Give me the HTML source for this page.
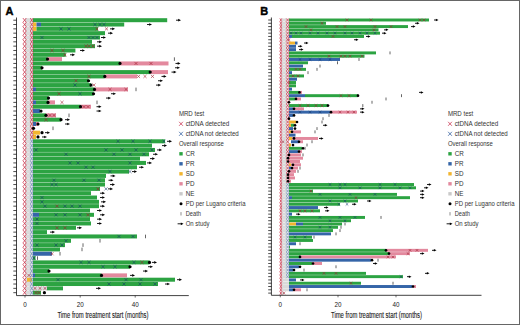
<!DOCTYPE html>
<html><head><meta charset="utf-8"><style>
html,body{margin:0;padding:0;background:#fff;}
body{width:520px;height:325px;overflow:hidden;}
svg{display:block;font-family:"Liberation Sans",sans-serif;}
</style></head><body>
<svg width="520" height="325" viewBox="0 0 520 325">
<rect x="0" y="0" width="520" height="325" fill="#fff"/>
<text x="5.5" y="14.8" font-size="11" font-weight="bold" stroke="#000" stroke-width="0.4">A</text>
<text x="260.2" y="14.8" font-size="11" font-weight="bold" stroke="#000" stroke-width="0.4">B</text>
<rect x="25.00" y="18.20" width="8.00" height="4.00" fill="#dadada"/>
<rect x="33.00" y="18.20" width="134.20" height="4.00" fill="#2ca342"/>
<rect x="25.00" y="22.52" width="8.00" height="4.00" fill="#dadada"/>
<rect x="33.00" y="22.52" width="3.50" height="4.00" fill="#f2b530"/>
<rect x="36.50" y="22.52" width="4.50" height="4.00" fill="#3565a8"/>
<rect x="41.00" y="22.52" width="83.20" height="4.00" fill="#2ca342"/>
<rect x="25.00" y="26.85" width="8.00" height="4.00" fill="#dadada"/>
<rect x="33.00" y="26.85" width="3.50" height="4.00" fill="#f2b530"/>
<rect x="36.50" y="26.85" width="61.50" height="4.00" fill="#2ca342"/>
<rect x="25.00" y="31.17" width="8.00" height="4.00" fill="#dadada"/>
<rect x="33.00" y="31.17" width="72.00" height="4.00" fill="#2ca342"/>
<rect x="25.00" y="35.50" width="8.00" height="4.00" fill="#dadada"/>
<rect x="33.00" y="35.50" width="67.00" height="4.00" fill="#2ca342"/>
<rect x="25.00" y="39.83" width="8.00" height="4.00" fill="#dadada"/>
<rect x="33.00" y="39.83" width="59.00" height="4.00" fill="#2ca342"/>
<rect x="25.00" y="44.15" width="8.00" height="4.00" fill="#dadada"/>
<rect x="33.00" y="44.15" width="62.00" height="4.00" fill="#2ca342"/>
<rect x="25.00" y="48.48" width="8.00" height="4.00" fill="#dadada"/>
<rect x="33.00" y="48.48" width="42.40" height="4.00" fill="#2ca342"/>
<rect x="25.00" y="52.80" width="8.00" height="4.00" fill="#dadada"/>
<rect x="33.00" y="52.80" width="32.80" height="4.00" fill="#2ca342"/>
<rect x="25.00" y="57.12" width="8.00" height="4.00" fill="#dadada"/>
<rect x="33.00" y="57.12" width="14.50" height="4.00" fill="#2ca342"/>
<rect x="47.50" y="57.12" width="14.50" height="4.00" fill="#e3899e"/>
<rect x="25.00" y="61.45" width="8.00" height="4.00" fill="#dadada"/>
<rect x="33.00" y="61.45" width="87.00" height="4.00" fill="#2ca342"/>
<rect x="120.00" y="61.45" width="48.50" height="4.00" fill="#e3899e"/>
<rect x="25.00" y="65.78" width="8.00" height="4.00" fill="#dadada"/>
<rect x="33.00" y="65.78" width="9.00" height="4.00" fill="#2ca342"/>
<rect x="25.00" y="70.10" width="8.00" height="4.00" fill="#dadada"/>
<rect x="33.00" y="70.10" width="117.20" height="4.00" fill="#2ca342"/>
<rect x="150.20" y="70.10" width="17.80" height="4.00" fill="#e3899e"/>
<rect x="25.00" y="74.42" width="8.00" height="4.00" fill="#dadada"/>
<rect x="33.00" y="74.42" width="71.80" height="4.00" fill="#2ca342"/>
<rect x="104.80" y="74.42" width="32.20" height="4.00" fill="#e3899e"/>
<rect x="25.00" y="78.75" width="8.00" height="4.00" fill="#dadada"/>
<rect x="33.00" y="78.75" width="55.50" height="4.00" fill="#2ca342"/>
<rect x="25.00" y="83.08" width="8.00" height="4.00" fill="#dadada"/>
<rect x="33.00" y="83.08" width="58.00" height="4.00" fill="#2ca342"/>
<rect x="25.00" y="87.40" width="8.00" height="4.00" fill="#dadada"/>
<rect x="33.00" y="87.40" width="3.00" height="4.00" fill="#3565a8"/>
<rect x="36.00" y="87.40" width="58.50" height="4.00" fill="#2ca342"/>
<rect x="94.50" y="87.40" width="33.50" height="4.00" fill="#e3899e"/>
<rect x="25.00" y="91.73" width="8.00" height="4.00" fill="#dadada"/>
<rect x="33.00" y="91.73" width="60.50" height="4.00" fill="#2ca342"/>
<rect x="25.00" y="96.05" width="8.00" height="4.00" fill="#dadada"/>
<rect x="33.00" y="96.05" width="15.50" height="4.00" fill="#2ca342"/>
<rect x="25.00" y="100.38" width="8.00" height="4.00" fill="#dadada"/>
<rect x="33.00" y="100.38" width="3.00" height="4.00" fill="#3565a8"/>
<rect x="36.00" y="100.38" width="12.00" height="4.00" fill="#2ca342"/>
<rect x="48.00" y="100.38" width="7.00" height="4.00" fill="#e3899e"/>
<rect x="25.00" y="104.70" width="8.00" height="4.00" fill="#dadada"/>
<rect x="33.00" y="104.70" width="47.50" height="4.00" fill="#2ca342"/>
<rect x="80.50" y="104.70" width="10.50" height="4.00" fill="#e3899e"/>
<rect x="25.00" y="109.03" width="8.00" height="4.00" fill="#dadada"/>
<rect x="33.00" y="109.03" width="7.00" height="4.00" fill="#3565a8"/>
<rect x="25.00" y="113.35" width="8.00" height="4.00" fill="#dadada"/>
<rect x="33.00" y="113.35" width="13.00" height="4.00" fill="#2ca342"/>
<rect x="46.00" y="113.35" width="10.00" height="4.00" fill="#e3899e"/>
<rect x="25.00" y="117.68" width="8.00" height="4.00" fill="#dadada"/>
<rect x="33.00" y="117.68" width="28.00" height="4.00" fill="#2ca342"/>
<rect x="25.00" y="122.00" width="8.00" height="4.00" fill="#dadada"/>
<rect x="33.00" y="122.00" width="3.00" height="4.00" fill="#3565a8"/>
<rect x="36.00" y="122.00" width="2.50" height="4.00" fill="#e3899e"/>
<rect x="25.00" y="126.32" width="8.00" height="4.00" fill="#dadada"/>
<rect x="25.00" y="130.65" width="8.00" height="4.00" fill="#dadada"/>
<rect x="33.00" y="130.65" width="7.00" height="4.00" fill="#f2b530"/>
<rect x="25.00" y="134.97" width="8.00" height="4.00" fill="#dadada"/>
<rect x="33.00" y="134.97" width="3.00" height="4.00" fill="#f2b530"/>
<rect x="25.00" y="139.30" width="8.00" height="4.00" fill="#dadada"/>
<rect x="33.00" y="139.30" width="132.00" height="4.00" fill="#2ca342"/>
<rect x="25.00" y="143.62" width="8.00" height="4.00" fill="#dadada"/>
<rect x="33.00" y="143.62" width="119.00" height="4.00" fill="#2ca342"/>
<rect x="25.00" y="147.95" width="8.00" height="4.00" fill="#dadada"/>
<rect x="33.00" y="147.95" width="122.00" height="4.00" fill="#2ca342"/>
<rect x="25.00" y="152.28" width="8.00" height="4.00" fill="#dadada"/>
<rect x="33.00" y="152.28" width="116.00" height="4.00" fill="#2ca342"/>
<rect x="25.00" y="156.60" width="8.00" height="4.00" fill="#dadada"/>
<rect x="33.00" y="156.60" width="107.00" height="4.00" fill="#2ca342"/>
<rect x="25.00" y="160.92" width="8.00" height="4.00" fill="#dadada"/>
<rect x="33.00" y="160.92" width="113.00" height="4.00" fill="#2ca342"/>
<rect x="25.00" y="165.25" width="8.00" height="4.00" fill="#dadada"/>
<rect x="33.00" y="165.25" width="104.00" height="4.00" fill="#2ca342"/>
<rect x="25.00" y="169.57" width="8.00" height="4.00" fill="#dadada"/>
<rect x="33.00" y="169.57" width="96.00" height="4.00" fill="#2ca342"/>
<rect x="25.00" y="173.90" width="8.00" height="4.00" fill="#dadada"/>
<rect x="33.00" y="173.90" width="73.00" height="4.00" fill="#2ca342"/>
<rect x="25.00" y="178.22" width="8.00" height="4.00" fill="#dadada"/>
<rect x="33.00" y="178.22" width="72.00" height="4.00" fill="#2ca342"/>
<rect x="25.00" y="182.55" width="8.00" height="4.00" fill="#dadada"/>
<rect x="33.00" y="182.55" width="72.00" height="4.00" fill="#2ca342"/>
<rect x="25.00" y="186.88" width="8.00" height="4.00" fill="#dadada"/>
<rect x="33.00" y="186.88" width="67.00" height="4.00" fill="#2ca342"/>
<rect x="25.00" y="191.20" width="8.00" height="4.00" fill="#dadada"/>
<rect x="33.00" y="191.20" width="58.00" height="4.00" fill="#2ca342"/>
<rect x="25.00" y="195.53" width="8.00" height="4.00" fill="#dadada"/>
<rect x="33.00" y="195.53" width="64.00" height="4.00" fill="#2ca342"/>
<rect x="25.00" y="199.85" width="8.00" height="4.00" fill="#dadada"/>
<rect x="33.00" y="199.85" width="66.00" height="4.00" fill="#2ca342"/>
<rect x="25.00" y="204.17" width="8.00" height="4.00" fill="#dadada"/>
<rect x="33.00" y="204.17" width="66.00" height="4.00" fill="#2ca342"/>
<rect x="25.00" y="208.50" width="8.00" height="4.00" fill="#dadada"/>
<rect x="33.00" y="208.50" width="57.00" height="4.00" fill="#2ca342"/>
<rect x="25.00" y="212.82" width="8.00" height="4.00" fill="#dadada"/>
<rect x="33.00" y="212.82" width="6.00" height="4.00" fill="#3565a8"/>
<rect x="39.00" y="212.82" width="55.00" height="4.00" fill="#2ca342"/>
<rect x="25.00" y="217.15" width="8.00" height="4.00" fill="#dadada"/>
<rect x="33.00" y="217.15" width="57.00" height="4.00" fill="#2ca342"/>
<rect x="25.00" y="221.47" width="8.00" height="4.00" fill="#dadada"/>
<rect x="33.00" y="221.47" width="58.00" height="4.00" fill="#2ca342"/>
<rect x="25.00" y="225.80" width="8.00" height="4.00" fill="#dadada"/>
<rect x="33.00" y="225.80" width="43.00" height="4.00" fill="#2ca342"/>
<rect x="25.00" y="230.12" width="8.00" height="4.00" fill="#dadada"/>
<rect x="33.00" y="230.12" width="14.00" height="4.00" fill="#2ca342"/>
<rect x="25.00" y="234.45" width="8.00" height="4.00" fill="#dadada"/>
<rect x="33.00" y="234.45" width="104.00" height="4.00" fill="#2ca342"/>
<rect x="25.00" y="238.78" width="8.00" height="4.00" fill="#dadada"/>
<rect x="33.00" y="238.78" width="38.00" height="4.00" fill="#2ca342"/>
<rect x="25.00" y="243.10" width="8.00" height="4.00" fill="#dadada"/>
<rect x="33.00" y="243.10" width="32.00" height="4.00" fill="#2ca342"/>
<rect x="25.00" y="247.43" width="8.00" height="4.00" fill="#dadada"/>
<rect x="33.00" y="247.43" width="27.00" height="4.00" fill="#2ca342"/>
<rect x="25.00" y="251.75" width="8.00" height="4.00" fill="#dadada"/>
<rect x="33.00" y="251.75" width="19.00" height="4.00" fill="#3565a8"/>
<rect x="25.00" y="256.07" width="8.00" height="4.00" fill="#dadada"/>
<rect x="33.00" y="256.07" width="2.50" height="4.00" fill="#2ca342"/>
<rect x="25.00" y="260.40" width="8.00" height="4.00" fill="#dadada"/>
<rect x="33.00" y="260.40" width="116.50" height="4.00" fill="#2ca342"/>
<rect x="25.00" y="264.73" width="8.00" height="4.00" fill="#dadada"/>
<rect x="33.00" y="264.73" width="97.00" height="4.00" fill="#2ca342"/>
<rect x="25.00" y="269.05" width="8.00" height="4.00" fill="#dadada"/>
<rect x="33.00" y="269.05" width="16.00" height="4.00" fill="#2ca342"/>
<rect x="25.00" y="273.38" width="8.00" height="4.00" fill="#dadada"/>
<rect x="33.00" y="273.38" width="2.00" height="4.00" fill="#3565a8"/>
<rect x="35.00" y="273.38" width="66.50" height="4.00" fill="#2ca342"/>
<rect x="101.50" y="273.38" width="25.50" height="4.00" fill="#e3899e"/>
<rect x="25.00" y="277.70" width="8.00" height="4.00" fill="#dadada"/>
<rect x="27.00" y="277.70" width="5.00" height="4.00" fill="#f2b530"/>
<rect x="33.00" y="277.70" width="142.00" height="4.00" fill="#2ca342"/>
<rect x="25.00" y="282.02" width="8.00" height="4.00" fill="#dadada"/>
<rect x="33.00" y="282.02" width="125.00" height="4.00" fill="#2ca342"/>
<rect x="25.00" y="286.35" width="22.00" height="4.00" fill="#dadada"/>
<rect x="47.00" y="286.35" width="16.00" height="4.00" fill="#2ca342"/>
<rect x="25.00" y="290.68" width="8.00" height="4.00" fill="#dadada"/>
<rect x="33.00" y="290.68" width="8.00" height="4.00" fill="#2ca342"/>
<path d="M22.90 18.04L26.30 22.36M22.90 22.36L26.30 18.04" stroke="#d0344c" stroke-width="0.95" stroke-opacity="0.8" fill="none"/>
<path d="M30.20 18.04L33.20 22.36M30.20 22.36L33.20 18.04" stroke="#d0344c" stroke-width="0.95" stroke-opacity="0.8" fill="none"/>
<path d="M176.00 20.20H178.76" stroke="#000" stroke-width="0.9"/>
<path d="M181.00 20.20L178.20 18.86L178.20 21.54Z" fill="#000"/>
<path d="M22.90 22.36L26.30 26.68M22.90 26.68L26.30 22.36" stroke="#d0344c" stroke-width="0.95" stroke-opacity="0.8" fill="none"/>
<path d="M30.20 22.36L33.20 26.68M30.20 26.68L33.20 22.36" stroke="#d0344c" stroke-width="0.95" stroke-opacity="0.8" fill="none"/>
<path d="M93.45 22.97L96.55 26.07M93.45 26.07L96.55 22.97" stroke="#12386a" stroke-width="0.85" stroke-opacity="0.65" fill="none"/>
<path d="M98.45 22.97L101.55 26.07M98.45 26.07L101.55 22.97" stroke="#12386a" stroke-width="0.85" stroke-opacity="0.65" fill="none"/>
<path d="M102.45 22.97L105.55 26.07M102.45 26.07L105.55 22.97" stroke="#12386a" stroke-width="0.85" stroke-opacity="0.65" fill="none"/>
<path d="M147.00 24.52H149.76" stroke="#000" stroke-width="0.9"/>
<path d="M152.00 24.52L149.20 23.18L149.20 25.87Z" fill="#000"/>
<path d="M22.90 26.69L26.30 31.01M22.90 31.01L26.30 26.69" stroke="#d0344c" stroke-width="0.95" stroke-opacity="0.8" fill="none"/>
<path d="M30.20 26.69L33.20 31.01M30.20 31.01L33.20 26.69" stroke="#d0344c" stroke-width="0.95" stroke-opacity="0.8" fill="none"/>
<path d="M95.45 27.30L98.55 30.40M95.45 30.40L98.55 27.30" stroke="#a02030" stroke-width="0.85" stroke-opacity="0.7" fill="none"/>
<path d="M104.95 27.30L108.05 30.40M104.95 30.40L108.05 27.30" stroke="#a02030" stroke-width="0.85" stroke-opacity="0.7" fill="none"/>
<path d="M59.45 27.30L62.55 30.40M59.45 30.40L62.55 27.30" stroke="#12386a" stroke-width="0.85" stroke-opacity="0.65" fill="none"/>
<path d="M67.45 27.30L70.55 30.40M67.45 30.40L70.55 27.30" stroke="#12386a" stroke-width="0.85" stroke-opacity="0.65" fill="none"/>
<path d="M110.00 28.85H112.76" stroke="#000" stroke-width="0.9"/>
<path d="M115.00 28.85L112.20 27.51L112.20 30.19Z" fill="#000"/>
<path d="M22.90 31.01L26.30 35.33M22.90 35.33L26.30 31.01" stroke="#d0344c" stroke-width="0.95" stroke-opacity="0.8" fill="none"/>
<path d="M30.20 31.01L33.20 35.33M30.20 35.33L33.20 31.01" stroke="#d0344c" stroke-width="0.95" stroke-opacity="0.8" fill="none"/>
<path d="M108.00 33.17H110.76" stroke="#000" stroke-width="0.9"/>
<path d="M113.00 33.17L110.20 31.83L110.20 34.52Z" fill="#000"/>
<path d="M22.90 35.34L26.30 39.66M22.90 39.66L26.30 35.34" stroke="#d0344c" stroke-width="0.95" stroke-opacity="0.8" fill="none"/>
<path d="M30.20 35.34L33.20 39.66M30.20 39.66L33.20 35.34" stroke="#d0344c" stroke-width="0.95" stroke-opacity="0.8" fill="none"/>
<path d="M40.45 35.95L43.55 39.05M40.45 39.05L43.55 35.95" stroke="#12386a" stroke-width="0.85" stroke-opacity="0.65" fill="none"/>
<path d="M87.45 35.95L90.55 39.05M87.45 39.05L90.55 35.95" stroke="#12386a" stroke-width="0.85" stroke-opacity="0.65" fill="none"/>
<path d="M91.45 35.95L94.55 39.05M91.45 39.05L94.55 35.95" stroke="#12386a" stroke-width="0.85" stroke-opacity="0.65" fill="none"/>
<path d="M95.45 35.95L98.55 39.05M95.45 39.05L98.55 35.95" stroke="#12386a" stroke-width="0.85" stroke-opacity="0.65" fill="none"/>
<path d="M101.00 37.50H103.76" stroke="#000" stroke-width="0.9"/>
<path d="M106.00 37.50L103.20 36.16L103.20 38.84Z" fill="#000"/>
<path d="M22.90 39.67L26.30 43.98M22.90 43.98L26.30 39.67" stroke="#d0344c" stroke-width="0.95" stroke-opacity="0.8" fill="none"/>
<path d="M30.20 39.67L33.20 43.98M30.20 43.98L33.20 39.67" stroke="#d0344c" stroke-width="0.95" stroke-opacity="0.8" fill="none"/>
<path d="M97.00 41.83H99.76" stroke="#000" stroke-width="0.9"/>
<path d="M102.00 41.83L99.20 40.48L99.20 43.17Z" fill="#000"/>
<path d="M22.90 43.99L26.30 48.31M22.90 48.31L26.30 43.99" stroke="#d0344c" stroke-width="0.95" stroke-opacity="0.8" fill="none"/>
<path d="M30.20 43.99L33.20 48.31M30.20 48.31L33.20 43.99" stroke="#d0344c" stroke-width="0.95" stroke-opacity="0.8" fill="none"/>
<path d="M84.45 44.60L87.55 47.70M84.45 47.70L87.55 44.60" stroke="#a02030" stroke-width="0.85" stroke-opacity="0.7" fill="none"/>
<path d="M87.45 44.60L90.55 47.70M87.45 47.70L90.55 44.60" stroke="#a02030" stroke-width="0.85" stroke-opacity="0.7" fill="none"/>
<path d="M91.45 44.60L94.55 47.70M91.45 47.70L94.55 44.60" stroke="#a02030" stroke-width="0.85" stroke-opacity="0.7" fill="none"/>
<path d="M97.00 46.15H99.76" stroke="#000" stroke-width="0.9"/>
<path d="M102.00 46.15L99.20 44.81L99.20 47.49Z" fill="#000"/>
<path d="M22.90 48.31L26.30 52.64M22.90 52.64L26.30 48.31" stroke="#d0344c" stroke-width="0.95" stroke-opacity="0.8" fill="none"/>
<path d="M30.20 48.31L33.20 52.64M30.20 52.64L33.20 48.31" stroke="#d0344c" stroke-width="0.95" stroke-opacity="0.8" fill="none"/>
<path d="M50.45 48.93L53.55 52.02M50.45 52.02L53.55 48.93" stroke="#a02030" stroke-width="0.85" stroke-opacity="0.7" fill="none"/>
<path d="M61.45 48.93L64.55 52.02M61.45 52.02L64.55 48.93" stroke="#a02030" stroke-width="0.85" stroke-opacity="0.7" fill="none"/>
<path d="M80.00 50.48H82.76" stroke="#000" stroke-width="0.9"/>
<path d="M85.00 50.48L82.20 49.13L82.20 51.82Z" fill="#000"/>
<path d="M22.90 52.64L26.30 56.96M22.90 56.96L26.30 52.64" stroke="#d0344c" stroke-width="0.95" stroke-opacity="0.8" fill="none"/>
<path d="M30.20 52.64L33.20 56.96M30.20 56.96L33.20 52.64" stroke="#d0344c" stroke-width="0.95" stroke-opacity="0.8" fill="none"/>
<path d="M63.45 53.25L66.55 56.35M63.45 56.35L66.55 53.25" stroke="#a02030" stroke-width="0.85" stroke-opacity="0.7" fill="none"/>
<path d="M70.00 54.80H72.76" stroke="#000" stroke-width="0.9"/>
<path d="M75.00 54.80L72.20 53.46L72.20 56.14Z" fill="#000"/>
<path d="M22.90 56.97L26.30 61.28M22.90 61.28L26.30 56.97" stroke="#d0344c" stroke-width="0.95" stroke-opacity="0.8" fill="none"/>
<path d="M30.20 56.97L33.20 61.28M30.20 61.28L33.20 56.97" stroke="#d0344c" stroke-width="0.95" stroke-opacity="0.8" fill="none"/>
<circle cx="47.50" cy="59.12" r="1.6" fill="#000"/>
<path d="M174.40 57.33V60.92" stroke="#333" stroke-width="0.75"/>
<path d="M22.90 61.29L26.30 65.61M22.90 65.61L26.30 61.29" stroke="#d0344c" stroke-width="0.95" stroke-opacity="0.8" fill="none"/>
<path d="M30.20 61.29L33.20 65.61M30.20 65.61L33.20 61.29" stroke="#d0344c" stroke-width="0.95" stroke-opacity="0.8" fill="none"/>
<path d="M134.45 61.90L137.55 65.00M134.45 65.00L137.55 61.90" stroke="#a02030" stroke-width="0.85" stroke-opacity="0.7" fill="none"/>
<path d="M149.45 61.90L152.55 65.00M149.45 65.00L152.55 61.90" stroke="#a02030" stroke-width="0.85" stroke-opacity="0.7" fill="none"/>
<circle cx="120.00" cy="63.45" r="1.6" fill="#000"/>
<path d="M175.50 63.45H178.26" stroke="#000" stroke-width="0.9"/>
<path d="M180.50 63.45L177.70 62.11L177.70 64.79Z" fill="#000"/>
<path d="M22.90 65.62L26.30 69.94M22.90 69.94L26.30 65.62" stroke="#d0344c" stroke-width="0.95" stroke-opacity="0.8" fill="none"/>
<path d="M30.20 65.62L33.20 69.94M30.20 69.94L33.20 65.62" stroke="#d0344c" stroke-width="0.95" stroke-opacity="0.8" fill="none"/>
<circle cx="42.00" cy="67.78" r="1.6" fill="#000"/>
<path d="M175.00 67.78H177.76" stroke="#000" stroke-width="0.9"/>
<path d="M180.00 67.78L177.20 66.43L177.20 69.12Z" fill="#000"/>
<path d="M22.90 69.94L26.30 74.26M22.90 74.26L26.30 69.94" stroke="#d0344c" stroke-width="0.95" stroke-opacity="0.8" fill="none"/>
<path d="M30.20 69.94L33.20 74.26M30.20 74.26L33.20 69.94" stroke="#d0344c" stroke-width="0.95" stroke-opacity="0.8" fill="none"/>
<circle cx="150.20" cy="72.10" r="1.6" fill="#000"/>
<path d="M171.50 72.10H174.26" stroke="#000" stroke-width="0.9"/>
<path d="M176.50 72.10L173.70 70.76L173.70 73.44Z" fill="#000"/>
<path d="M22.90 74.27L26.30 78.58M22.90 78.58L26.30 74.27" stroke="#d0344c" stroke-width="0.95" stroke-opacity="0.8" fill="none"/>
<path d="M30.20 74.27L33.20 78.58M30.20 78.58L33.20 74.27" stroke="#d0344c" stroke-width="0.95" stroke-opacity="0.8" fill="none"/>
<path d="M87.45 74.88L90.55 77.97M87.45 77.97L90.55 74.88" stroke="#a02030" stroke-width="0.85" stroke-opacity="0.7" fill="none"/>
<path d="M136.95 74.88L140.05 77.97M136.95 77.97L140.05 74.88" stroke="#a02030" stroke-width="0.85" stroke-opacity="0.7" fill="none"/>
<path d="M143.45 74.88L146.55 77.97M143.45 77.97L146.55 74.88" stroke="#a02030" stroke-width="0.85" stroke-opacity="0.7" fill="none"/>
<path d="M150.95 74.88L154.05 77.97M150.95 77.97L154.05 74.88" stroke="#a02030" stroke-width="0.85" stroke-opacity="0.7" fill="none"/>
<circle cx="104.80" cy="76.42" r="1.6" fill="#000"/>
<path d="M161.50 76.42H164.26" stroke="#000" stroke-width="0.9"/>
<path d="M166.50 76.42L163.70 75.08L163.70 77.77Z" fill="#000"/>
<path d="M22.90 78.59L26.30 82.91M22.90 82.91L26.30 78.59" stroke="#d0344c" stroke-width="0.95" stroke-opacity="0.8" fill="none"/>
<path d="M30.20 78.59L33.20 82.91M30.20 82.91L33.20 78.59" stroke="#d0344c" stroke-width="0.95" stroke-opacity="0.8" fill="none"/>
<path d="M74.45 79.20L77.55 82.30M74.45 82.30L77.55 79.20" stroke="#a02030" stroke-width="0.85" stroke-opacity="0.7" fill="none"/>
<circle cx="88.50" cy="80.75" r="1.6" fill="#000"/>
<path d="M158.00 80.75H160.76" stroke="#000" stroke-width="0.9"/>
<path d="M163.00 80.75L160.20 79.41L160.20 82.09Z" fill="#000"/>
<path d="M22.90 82.92L26.30 87.23M22.90 87.23L26.30 82.92" stroke="#d0344c" stroke-width="0.95" stroke-opacity="0.8" fill="none"/>
<path d="M30.20 82.92L33.20 87.23M30.20 87.23L33.20 82.92" stroke="#d0344c" stroke-width="0.95" stroke-opacity="0.8" fill="none"/>
<path d="M92.45 83.53L95.55 86.62M92.45 86.62L95.55 83.53" stroke="#a02030" stroke-width="0.85" stroke-opacity="0.7" fill="none"/>
<path d="M73.45 83.53L76.55 86.62M73.45 86.62L76.55 83.53" stroke="#12386a" stroke-width="0.85" stroke-opacity="0.65" fill="none"/>
<circle cx="91.00" cy="85.08" r="1.6" fill="#000"/>
<path d="M156.00 85.08H158.76" stroke="#000" stroke-width="0.9"/>
<path d="M161.00 85.08L158.20 83.73L158.20 86.42Z" fill="#000"/>
<path d="M22.90 87.24L26.30 91.56M22.90 91.56L26.30 87.24" stroke="#d0344c" stroke-width="0.95" stroke-opacity="0.8" fill="none"/>
<path d="M30.20 87.24L33.20 91.56M30.20 91.56L33.20 87.24" stroke="#d0344c" stroke-width="0.95" stroke-opacity="0.8" fill="none"/>
<path d="M108.45 87.85L111.55 90.95M108.45 90.95L111.55 87.85" stroke="#a02030" stroke-width="0.85" stroke-opacity="0.7" fill="none"/>
<path d="M124.45 87.85L127.55 90.95M124.45 90.95L127.55 87.85" stroke="#a02030" stroke-width="0.85" stroke-opacity="0.7" fill="none"/>
<circle cx="94.50" cy="89.40" r="1.6" fill="#000"/>
<path d="M136.00 87.60V91.20" stroke="#333" stroke-width="0.75"/>
<path d="M22.90 91.57L26.30 95.89M22.90 95.89L26.30 91.57" stroke="#d0344c" stroke-width="0.95" stroke-opacity="0.8" fill="none"/>
<path d="M30.20 91.57L33.20 95.89M30.20 95.89L33.20 91.57" stroke="#d0344c" stroke-width="0.95" stroke-opacity="0.8" fill="none"/>
<path d="M57.45 92.18L60.55 95.28M57.45 95.28L60.55 92.18" stroke="#a02030" stroke-width="0.85" stroke-opacity="0.7" fill="none"/>
<path d="M78.45 92.18L81.55 95.28M78.45 95.28L81.55 92.18" stroke="#12386a" stroke-width="0.85" stroke-opacity="0.65" fill="none"/>
<circle cx="93.50" cy="93.73" r="1.6" fill="#000"/>
<path d="M111.00 93.73H113.76" stroke="#000" stroke-width="0.9"/>
<path d="M116.00 93.73L113.20 92.38L113.20 95.07Z" fill="#000"/>
<path d="M22.90 95.89L26.30 100.21M22.90 100.21L26.30 95.89" stroke="#d0344c" stroke-width="0.95" stroke-opacity="0.8" fill="none"/>
<path d="M30.20 95.89L33.20 100.21M30.20 100.21L33.20 95.89" stroke="#d0344c" stroke-width="0.95" stroke-opacity="0.8" fill="none"/>
<circle cx="48.50" cy="98.05" r="1.6" fill="#000"/>
<path d="M106.00 98.05H108.76" stroke="#000" stroke-width="0.9"/>
<path d="M111.00 98.05L108.20 96.71L108.20 99.39Z" fill="#000"/>
<path d="M22.90 100.22L26.30 104.53M22.90 104.53L26.30 100.22" stroke="#d0344c" stroke-width="0.95" stroke-opacity="0.8" fill="none"/>
<path d="M30.20 100.22L33.20 104.53M30.20 104.53L33.20 100.22" stroke="#d0344c" stroke-width="0.95" stroke-opacity="0.8" fill="none"/>
<path d="M60.45 100.83L63.55 103.92M60.45 103.92L63.55 100.83" stroke="#a02030" stroke-width="0.85" stroke-opacity="0.7" fill="none"/>
<circle cx="48.00" cy="102.38" r="1.6" fill="#000"/>
<path d="M97.00 100.58V104.17" stroke="#333" stroke-width="0.75"/>
<path d="M22.90 104.54L26.30 108.86M22.90 108.86L26.30 104.54" stroke="#d0344c" stroke-width="0.95" stroke-opacity="0.8" fill="none"/>
<path d="M30.20 104.54L33.20 108.86M30.20 108.86L33.20 104.54" stroke="#d0344c" stroke-width="0.95" stroke-opacity="0.8" fill="none"/>
<path d="M82.45 105.15L85.55 108.25M82.45 108.25L85.55 105.15" stroke="#a02030" stroke-width="0.85" stroke-opacity="0.7" fill="none"/>
<path d="M86.45 105.15L89.55 108.25M86.45 108.25L89.55 105.15" stroke="#a02030" stroke-width="0.85" stroke-opacity="0.7" fill="none"/>
<circle cx="80.50" cy="106.70" r="1.6" fill="#000"/>
<path d="M96.50 106.70H99.26" stroke="#000" stroke-width="0.9"/>
<path d="M101.50 106.70L98.70 105.36L98.70 108.04Z" fill="#000"/>
<path d="M22.90 108.87L26.30 113.19M22.90 113.19L26.30 108.87" stroke="#d0344c" stroke-width="0.95" stroke-opacity="0.8" fill="none"/>
<path d="M30.20 108.87L33.20 113.19M30.20 113.19L33.20 108.87" stroke="#d0344c" stroke-width="0.95" stroke-opacity="0.8" fill="none"/>
<circle cx="41.00" cy="111.03" r="1.6" fill="#000"/>
<path d="M96.50 111.03H99.26" stroke="#000" stroke-width="0.9"/>
<path d="M101.50 111.03L98.70 109.68L98.70 112.37Z" fill="#000"/>
<path d="M22.90 113.19L26.30 117.51M22.90 117.51L26.30 113.19" stroke="#d0344c" stroke-width="0.95" stroke-opacity="0.8" fill="none"/>
<path d="M30.20 113.19L33.20 117.51M30.20 117.51L33.20 113.19" stroke="#d0344c" stroke-width="0.95" stroke-opacity="0.8" fill="none"/>
<path d="M48.45 113.80L51.55 116.90M48.45 116.90L51.55 113.80" stroke="#a02030" stroke-width="0.85" stroke-opacity="0.7" fill="none"/>
<path d="M52.45 113.80L55.55 116.90M52.45 116.90L55.55 113.80" stroke="#a02030" stroke-width="0.85" stroke-opacity="0.7" fill="none"/>
<circle cx="46.00" cy="115.35" r="1.6" fill="#000"/>
<path d="M69.00 113.55V117.15" stroke="#333" stroke-width="0.75"/>
<path d="M22.90 117.52L26.30 121.84M22.90 121.84L26.30 117.52" stroke="#d0344c" stroke-width="0.95" stroke-opacity="0.8" fill="none"/>
<path d="M30.20 117.52L33.20 121.84M30.20 121.84L33.20 117.52" stroke="#d0344c" stroke-width="0.95" stroke-opacity="0.8" fill="none"/>
<path d="M44.45 118.13L47.55 121.23M44.45 121.23L47.55 118.13" stroke="#a02030" stroke-width="0.85" stroke-opacity="0.7" fill="none"/>
<circle cx="61.00" cy="119.68" r="1.6" fill="#000"/>
<path d="M65.00 119.68H67.76" stroke="#000" stroke-width="0.9"/>
<path d="M70.00 119.68L67.20 118.33L67.20 121.02Z" fill="#000"/>
<path d="M22.90 121.84L26.30 126.16M22.90 126.16L26.30 121.84" stroke="#d0344c" stroke-width="0.95" stroke-opacity="0.8" fill="none"/>
<path d="M30.20 121.84L33.20 126.16M30.20 126.16L33.20 121.84" stroke="#d0344c" stroke-width="0.95" stroke-opacity="0.8" fill="none"/>
<circle cx="38.00" cy="124.00" r="1.6" fill="#000"/>
<path d="M65.00 124.00H67.76" stroke="#000" stroke-width="0.9"/>
<path d="M70.00 124.00L67.20 122.66L67.20 125.34Z" fill="#000"/>
<path d="M22.90 126.16L26.30 130.48M22.90 130.48L26.30 126.16" stroke="#d0344c" stroke-width="0.95" stroke-opacity="0.8" fill="none"/>
<path d="M30.20 126.16L33.20 130.48M30.20 130.48L33.20 126.16" stroke="#d0344c" stroke-width="0.95" stroke-opacity="0.8" fill="none"/>
<circle cx="33.50" cy="128.32" r="1.6" fill="#000"/>
<path d="M53.00 126.52V130.12" stroke="#333" stroke-width="0.75"/>
<path d="M22.90 130.49L26.30 134.81M22.90 134.81L26.30 130.49" stroke="#d0344c" stroke-width="0.95" stroke-opacity="0.8" fill="none"/>
<path d="M30.20 130.49L33.20 134.81M30.20 134.81L33.20 130.49" stroke="#d0344c" stroke-width="0.95" stroke-opacity="0.8" fill="none"/>
<circle cx="42.00" cy="132.65" r="1.6" fill="#000"/>
<path d="M45.00 132.65H47.76" stroke="#000" stroke-width="0.9"/>
<path d="M50.00 132.65L47.20 131.31L47.20 133.99Z" fill="#000"/>
<path d="M22.90 134.81L26.30 139.13M22.90 139.13L26.30 134.81" stroke="#d0344c" stroke-width="0.95" stroke-opacity="0.8" fill="none"/>
<path d="M30.20 134.81L33.20 139.13M30.20 139.13L33.20 134.81" stroke="#d0344c" stroke-width="0.95" stroke-opacity="0.8" fill="none"/>
<circle cx="38.00" cy="136.97" r="1.6" fill="#000"/>
<path d="M42.00 136.97H44.76" stroke="#000" stroke-width="0.9"/>
<path d="M47.00 136.97L44.20 135.63L44.20 138.32Z" fill="#000"/>
<path d="M22.90 139.14L26.30 143.46M22.90 143.46L26.30 139.14" stroke="#d0344c" stroke-width="0.95" stroke-opacity="0.8" fill="none"/>
<path d="M30.20 139.14L33.20 143.46M30.20 143.46L33.20 139.14" stroke="#6f8fc0" stroke-width="0.95" stroke-opacity="0.8" fill="none"/>
<path d="M116.45 139.75L119.55 142.85M116.45 142.85L119.55 139.75" stroke="#12386a" stroke-width="0.85" stroke-opacity="0.65" fill="none"/>
<path d="M131.45 139.75L134.55 142.85M131.45 142.85L134.55 139.75" stroke="#12386a" stroke-width="0.85" stroke-opacity="0.65" fill="none"/>
<path d="M148.45 139.75L151.55 142.85M148.45 142.85L151.55 139.75" stroke="#12386a" stroke-width="0.85" stroke-opacity="0.65" fill="none"/>
<path d="M162.45 139.75L165.55 142.85M162.45 142.85L165.55 139.75" stroke="#12386a" stroke-width="0.85" stroke-opacity="0.65" fill="none"/>
<path d="M167.00 141.30H169.76" stroke="#000" stroke-width="0.9"/>
<path d="M172.00 141.30L169.20 139.96L169.20 142.64Z" fill="#000"/>
<path d="M22.90 143.47L26.30 147.78M22.90 147.78L26.30 143.47" stroke="#d0344c" stroke-width="0.95" stroke-opacity="0.8" fill="none"/>
<path d="M30.20 143.47L33.20 147.78M30.20 147.78L33.20 143.47" stroke="#6f8fc0" stroke-width="0.95" stroke-opacity="0.8" fill="none"/>
<path d="M162.00 145.62H164.76" stroke="#000" stroke-width="0.9"/>
<path d="M167.00 145.62L164.20 144.28L164.20 146.97Z" fill="#000"/>
<path d="M22.90 147.79L26.30 152.11M22.90 152.11L26.30 147.79" stroke="#d0344c" stroke-width="0.95" stroke-opacity="0.8" fill="none"/>
<path d="M30.20 147.79L33.20 152.11M30.20 152.11L33.20 147.79" stroke="#6f8fc0" stroke-width="0.95" stroke-opacity="0.8" fill="none"/>
<path d="M34.45 148.40L37.55 151.50M34.45 151.50L37.55 148.40" stroke="#12386a" stroke-width="0.85" stroke-opacity="0.65" fill="none"/>
<path d="M104.45 148.40L107.55 151.50M104.45 151.50L107.55 148.40" stroke="#12386a" stroke-width="0.85" stroke-opacity="0.65" fill="none"/>
<path d="M120.45 148.40L123.55 151.50M120.45 151.50L123.55 148.40" stroke="#12386a" stroke-width="0.85" stroke-opacity="0.65" fill="none"/>
<path d="M134.45 148.40L137.55 151.50M134.45 151.50L137.55 148.40" stroke="#12386a" stroke-width="0.85" stroke-opacity="0.65" fill="none"/>
<path d="M150.45 148.40L153.55 151.50M150.45 151.50L153.55 148.40" stroke="#12386a" stroke-width="0.85" stroke-opacity="0.65" fill="none"/>
<path d="M157.00 149.95H159.76" stroke="#000" stroke-width="0.9"/>
<path d="M162.00 149.95L159.20 148.61L159.20 151.29Z" fill="#000"/>
<path d="M22.90 152.12L26.30 156.44M22.90 156.44L26.30 152.12" stroke="#d0344c" stroke-width="0.95" stroke-opacity="0.8" fill="none"/>
<path d="M30.20 152.12L33.20 156.44M30.20 156.44L33.20 152.12" stroke="#6f8fc0" stroke-width="0.95" stroke-opacity="0.8" fill="none"/>
<path d="M64.45 152.72L67.55 155.83M64.45 155.83L67.55 152.72" stroke="#12386a" stroke-width="0.85" stroke-opacity="0.65" fill="none"/>
<path d="M112.45 152.72L115.55 155.83M112.45 155.83L115.55 152.72" stroke="#12386a" stroke-width="0.85" stroke-opacity="0.65" fill="none"/>
<path d="M128.45 152.72L131.55 155.83M128.45 155.83L131.55 152.72" stroke="#12386a" stroke-width="0.85" stroke-opacity="0.65" fill="none"/>
<path d="M142.45 152.72L145.55 155.83M142.45 155.83L145.55 152.72" stroke="#12386a" stroke-width="0.85" stroke-opacity="0.65" fill="none"/>
<path d="M153.00 154.28H155.76" stroke="#000" stroke-width="0.9"/>
<path d="M158.00 154.28L155.20 152.93L155.20 155.62Z" fill="#000"/>
<path d="M22.90 156.44L26.30 160.76M22.90 160.76L26.30 156.44" stroke="#d0344c" stroke-width="0.95" stroke-opacity="0.8" fill="none"/>
<path d="M30.20 156.44L33.20 160.76M30.20 160.76L33.20 156.44" stroke="#6f8fc0" stroke-width="0.95" stroke-opacity="0.8" fill="none"/>
<path d="M150.00 158.60H152.76" stroke="#000" stroke-width="0.9"/>
<path d="M155.00 158.60L152.20 157.26L152.20 159.94Z" fill="#000"/>
<path d="M22.90 160.76L26.30 165.08M22.90 165.08L26.30 160.76" stroke="#d0344c" stroke-width="0.95" stroke-opacity="0.8" fill="none"/>
<path d="M30.20 160.76L33.20 165.08M30.20 165.08L33.20 160.76" stroke="#6f8fc0" stroke-width="0.95" stroke-opacity="0.8" fill="none"/>
<path d="M68.45 161.37L71.55 164.47M68.45 164.47L71.55 161.37" stroke="#12386a" stroke-width="0.85" stroke-opacity="0.65" fill="none"/>
<path d="M76.45 161.37L79.55 164.47M76.45 164.47L79.55 161.37" stroke="#12386a" stroke-width="0.85" stroke-opacity="0.65" fill="none"/>
<path d="M128.45 161.37L131.55 164.47M128.45 164.47L131.55 161.37" stroke="#12386a" stroke-width="0.85" stroke-opacity="0.65" fill="none"/>
<path d="M147.00 162.92H149.76" stroke="#000" stroke-width="0.9"/>
<path d="M152.00 162.92L149.20 161.58L149.20 164.27Z" fill="#000"/>
<path d="M22.90 165.09L26.30 169.41M22.90 169.41L26.30 165.09" stroke="#d0344c" stroke-width="0.95" stroke-opacity="0.8" fill="none"/>
<path d="M30.20 165.09L33.20 169.41M30.20 169.41L33.20 165.09" stroke="#6f8fc0" stroke-width="0.95" stroke-opacity="0.8" fill="none"/>
<path d="M84.45 165.70L87.55 168.80M84.45 168.80L87.55 165.70" stroke="#12386a" stroke-width="0.85" stroke-opacity="0.65" fill="none"/>
<path d="M91.45 165.70L94.55 168.80M91.45 168.80L94.55 165.70" stroke="#12386a" stroke-width="0.85" stroke-opacity="0.65" fill="none"/>
<path d="M139.00 167.25H141.76" stroke="#000" stroke-width="0.9"/>
<path d="M144.00 167.25L141.20 165.91L141.20 168.59Z" fill="#000"/>
<path d="M22.90 169.41L26.30 173.73M22.90 173.73L26.30 169.41" stroke="#d0344c" stroke-width="0.95" stroke-opacity="0.8" fill="none"/>
<path d="M30.20 169.41L33.20 173.73M30.20 173.73L33.20 169.41" stroke="#6f8fc0" stroke-width="0.95" stroke-opacity="0.8" fill="none"/>
<path d="M108.45 170.02L111.55 173.12M108.45 173.12L111.55 170.02" stroke="#12386a" stroke-width="0.85" stroke-opacity="0.65" fill="none"/>
<path d="M128.45 170.02L131.55 173.12M128.45 173.12L131.55 170.02" stroke="#12386a" stroke-width="0.85" stroke-opacity="0.65" fill="none"/>
<path d="M132.00 171.57H134.76" stroke="#000" stroke-width="0.9"/>
<path d="M137.00 171.57L134.20 170.23L134.20 172.92Z" fill="#000"/>
<path d="M22.90 173.74L26.30 178.06M22.90 178.06L26.30 173.74" stroke="#d0344c" stroke-width="0.95" stroke-opacity="0.8" fill="none"/>
<path d="M30.20 173.74L33.20 178.06M30.20 178.06L33.20 173.74" stroke="#6f8fc0" stroke-width="0.95" stroke-opacity="0.8" fill="none"/>
<path d="M110.50 175.90H113.26" stroke="#000" stroke-width="0.9"/>
<path d="M115.50 175.90L112.70 174.56L112.70 177.24Z" fill="#000"/>
<path d="M22.90 178.06L26.30 182.38M22.90 182.38L26.30 178.06" stroke="#d0344c" stroke-width="0.95" stroke-opacity="0.8" fill="none"/>
<path d="M30.20 178.06L33.20 182.38M30.20 182.38L33.20 178.06" stroke="#6f8fc0" stroke-width="0.95" stroke-opacity="0.8" fill="none"/>
<path d="M52.45 178.67L55.55 181.78M52.45 181.78L55.55 178.67" stroke="#12386a" stroke-width="0.85" stroke-opacity="0.65" fill="none"/>
<path d="M82.45 178.67L85.55 181.78M82.45 181.78L85.55 178.67" stroke="#12386a" stroke-width="0.85" stroke-opacity="0.65" fill="none"/>
<path d="M97.45 178.67L100.55 181.78M97.45 181.78L100.55 178.67" stroke="#12386a" stroke-width="0.85" stroke-opacity="0.65" fill="none"/>
<path d="M108.50 180.22H111.26" stroke="#000" stroke-width="0.9"/>
<path d="M113.50 180.22L110.70 178.88L110.70 181.57Z" fill="#000"/>
<path d="M22.90 182.39L26.30 186.71M22.90 186.71L26.30 182.39" stroke="#d0344c" stroke-width="0.95" stroke-opacity="0.8" fill="none"/>
<path d="M30.20 182.39L33.20 186.71M30.20 186.71L33.20 182.39" stroke="#6f8fc0" stroke-width="0.95" stroke-opacity="0.8" fill="none"/>
<path d="M50.45 183.00L53.55 186.10M50.45 186.10L53.55 183.00" stroke="#12386a" stroke-width="0.85" stroke-opacity="0.65" fill="none"/>
<path d="M54.45 183.00L57.55 186.10M54.45 186.10L57.55 183.00" stroke="#12386a" stroke-width="0.85" stroke-opacity="0.65" fill="none"/>
<path d="M110.00 184.55H112.76" stroke="#000" stroke-width="0.9"/>
<path d="M115.00 184.55L112.20 183.21L112.20 185.89Z" fill="#000"/>
<path d="M22.90 186.72L26.30 191.03M22.90 191.03L26.30 186.72" stroke="#d0344c" stroke-width="0.95" stroke-opacity="0.8" fill="none"/>
<path d="M30.20 186.72L33.20 191.03M30.20 191.03L33.20 186.72" stroke="#6f8fc0" stroke-width="0.95" stroke-opacity="0.8" fill="none"/>
<path d="M96.45 187.32L99.55 190.43M96.45 190.43L99.55 187.32" stroke="#a02030" stroke-width="0.85" stroke-opacity="0.7" fill="none"/>
<path d="M104.45 187.32L107.55 190.43M104.45 190.43L107.55 187.32" stroke="#12386a" stroke-width="0.85" stroke-opacity="0.65" fill="none"/>
<path d="M108.00 188.88H110.76" stroke="#000" stroke-width="0.9"/>
<path d="M113.00 188.88L110.20 187.53L110.20 190.22Z" fill="#000"/>
<path d="M22.90 191.04L26.30 195.36M22.90 195.36L26.30 191.04" stroke="#d0344c" stroke-width="0.95" stroke-opacity="0.8" fill="none"/>
<path d="M30.20 191.04L33.20 195.36M30.20 195.36L33.20 191.04" stroke="#6f8fc0" stroke-width="0.95" stroke-opacity="0.8" fill="none"/>
<path d="M100.00 193.20H102.76" stroke="#000" stroke-width="0.9"/>
<path d="M105.00 193.20L102.20 191.86L102.20 194.54Z" fill="#000"/>
<path d="M22.90 195.37L26.30 199.69M22.90 199.69L26.30 195.37" stroke="#d0344c" stroke-width="0.95" stroke-opacity="0.8" fill="none"/>
<path d="M30.20 195.37L33.20 199.69M30.20 199.69L33.20 195.37" stroke="#6f8fc0" stroke-width="0.95" stroke-opacity="0.8" fill="none"/>
<path d="M40.45 195.97L43.55 199.08M40.45 199.08L43.55 195.97" stroke="#12386a" stroke-width="0.85" stroke-opacity="0.65" fill="none"/>
<path d="M100.00 197.53H102.76" stroke="#000" stroke-width="0.9"/>
<path d="M105.00 197.53L102.20 196.18L102.20 198.87Z" fill="#000"/>
<path d="M22.90 199.69L26.30 204.01M22.90 204.01L26.30 199.69" stroke="#d0344c" stroke-width="0.95" stroke-opacity="0.8" fill="none"/>
<path d="M30.20 199.69L33.20 204.01M30.20 204.01L33.20 199.69" stroke="#6f8fc0" stroke-width="0.95" stroke-opacity="0.8" fill="none"/>
<path d="M40.45 200.30L43.55 203.40M40.45 203.40L43.55 200.30" stroke="#12386a" stroke-width="0.85" stroke-opacity="0.65" fill="none"/>
<path d="M101.00 201.85H103.76" stroke="#000" stroke-width="0.9"/>
<path d="M106.00 201.85L103.20 200.51L103.20 203.19Z" fill="#000"/>
<path d="M22.90 204.01L26.30 208.33M22.90 208.33L26.30 204.01" stroke="#d0344c" stroke-width="0.95" stroke-opacity="0.8" fill="none"/>
<path d="M30.20 204.01L33.20 208.33M30.20 208.33L33.20 204.01" stroke="#6f8fc0" stroke-width="0.95" stroke-opacity="0.8" fill="none"/>
<path d="M55.45 204.62L58.55 207.72M55.45 207.72L58.55 204.62" stroke="#a02030" stroke-width="0.85" stroke-opacity="0.7" fill="none"/>
<path d="M43.45 204.62L46.55 207.72M43.45 207.72L46.55 204.62" stroke="#12386a" stroke-width="0.85" stroke-opacity="0.65" fill="none"/>
<path d="M63.45 204.62L66.55 207.72M63.45 207.72L66.55 204.62" stroke="#12386a" stroke-width="0.85" stroke-opacity="0.65" fill="none"/>
<path d="M70.45 204.62L73.55 207.72M70.45 207.72L73.55 204.62" stroke="#12386a" stroke-width="0.85" stroke-opacity="0.65" fill="none"/>
<path d="M78.45 204.62L81.55 207.72M78.45 207.72L81.55 204.62" stroke="#12386a" stroke-width="0.85" stroke-opacity="0.65" fill="none"/>
<path d="M100.00 206.17H102.76" stroke="#000" stroke-width="0.9"/>
<path d="M105.00 206.17L102.20 204.83L102.20 207.52Z" fill="#000"/>
<path d="M22.90 208.34L26.30 212.66M22.90 212.66L26.30 208.34" stroke="#d0344c" stroke-width="0.95" stroke-opacity="0.8" fill="none"/>
<path d="M30.20 208.34L33.20 212.66M30.20 212.66L33.20 208.34" stroke="#6f8fc0" stroke-width="0.95" stroke-opacity="0.8" fill="none"/>
<path d="M97.00 210.50H99.76" stroke="#000" stroke-width="0.9"/>
<path d="M102.00 210.50L99.20 209.16L99.20 211.84Z" fill="#000"/>
<path d="M22.90 212.66L26.30 216.98M22.90 216.98L26.30 212.66" stroke="#d0344c" stroke-width="0.95" stroke-opacity="0.8" fill="none"/>
<path d="M30.20 212.66L33.20 216.98M30.20 216.98L33.20 212.66" stroke="#6f8fc0" stroke-width="0.95" stroke-opacity="0.8" fill="none"/>
<path d="M86.45 213.27L89.55 216.38M86.45 216.38L89.55 213.27" stroke="#a02030" stroke-width="0.85" stroke-opacity="0.7" fill="none"/>
<path d="M54.45 213.27L57.55 216.38M54.45 216.38L57.55 213.27" stroke="#12386a" stroke-width="0.85" stroke-opacity="0.65" fill="none"/>
<path d="M63.45 213.27L66.55 216.38M63.45 216.38L66.55 213.27" stroke="#12386a" stroke-width="0.85" stroke-opacity="0.65" fill="none"/>
<path d="M78.45 213.27L81.55 216.38M78.45 216.38L81.55 213.27" stroke="#12386a" stroke-width="0.85" stroke-opacity="0.65" fill="none"/>
<path d="M100.00 214.82H102.76" stroke="#000" stroke-width="0.9"/>
<path d="M105.00 214.82L102.20 213.48L102.20 216.17Z" fill="#000"/>
<path d="M22.90 216.99L26.30 221.31M22.90 221.31L26.30 216.99" stroke="#d0344c" stroke-width="0.95" stroke-opacity="0.8" fill="none"/>
<path d="M30.20 216.99L33.20 221.31M30.20 221.31L33.20 216.99" stroke="#6f8fc0" stroke-width="0.95" stroke-opacity="0.8" fill="none"/>
<path d="M35.45 217.60L38.55 220.70M35.45 220.70L38.55 217.60" stroke="#12386a" stroke-width="0.85" stroke-opacity="0.65" fill="none"/>
<path d="M97.00 219.15H99.76" stroke="#000" stroke-width="0.9"/>
<path d="M102.00 219.15L99.20 217.81L99.20 220.49Z" fill="#000"/>
<path d="M22.90 221.31L26.30 225.63M22.90 225.63L26.30 221.31" stroke="#d0344c" stroke-width="0.95" stroke-opacity="0.8" fill="none"/>
<path d="M30.20 221.31L33.20 225.63M30.20 225.63L33.20 221.31" stroke="#6f8fc0" stroke-width="0.95" stroke-opacity="0.8" fill="none"/>
<path d="M35.45 221.92L38.55 225.03M35.45 225.03L38.55 221.92" stroke="#12386a" stroke-width="0.85" stroke-opacity="0.65" fill="none"/>
<path d="M97.00 223.47H99.76" stroke="#000" stroke-width="0.9"/>
<path d="M102.00 223.47L99.20 222.13L99.20 224.82Z" fill="#000"/>
<path d="M22.90 225.64L26.30 229.96M22.90 229.96L26.30 225.64" stroke="#d0344c" stroke-width="0.95" stroke-opacity="0.8" fill="none"/>
<path d="M30.20 225.64L33.20 229.96M30.20 229.96L33.20 225.64" stroke="#6f8fc0" stroke-width="0.95" stroke-opacity="0.8" fill="none"/>
<path d="M55.45 226.25L58.55 229.35M55.45 229.35L58.55 226.25" stroke="#a02030" stroke-width="0.85" stroke-opacity="0.7" fill="none"/>
<path d="M63.45 226.25L66.55 229.35M63.45 229.35L66.55 226.25" stroke="#a02030" stroke-width="0.85" stroke-opacity="0.7" fill="none"/>
<path d="M77.00 227.80H79.76" stroke="#000" stroke-width="0.9"/>
<path d="M82.00 227.80L79.20 226.46L79.20 229.14Z" fill="#000"/>
<path d="M22.90 229.97L26.30 234.28M22.90 234.28L26.30 229.97" stroke="#d0344c" stroke-width="0.95" stroke-opacity="0.8" fill="none"/>
<path d="M30.20 229.97L33.20 234.28M30.20 234.28L33.20 229.97" stroke="#6f8fc0" stroke-width="0.95" stroke-opacity="0.8" fill="none"/>
<path d="M50.00 232.12H52.76" stroke="#000" stroke-width="0.9"/>
<path d="M55.00 232.12L52.20 230.78L52.20 233.47Z" fill="#000"/>
<path d="M22.90 234.29L26.30 238.61M22.90 238.61L26.30 234.29" stroke="#d0344c" stroke-width="0.95" stroke-opacity="0.8" fill="none"/>
<path d="M30.20 234.29L33.20 238.61M30.20 238.61L33.20 234.29" stroke="#6f8fc0" stroke-width="0.95" stroke-opacity="0.8" fill="none"/>
<path d="M117.45 234.90L120.55 238.00M117.45 238.00L120.55 234.90" stroke="#12386a" stroke-width="0.85" stroke-opacity="0.65" fill="none"/>
<path d="M131.45 234.90L134.55 238.00M131.45 238.00L134.55 234.90" stroke="#12386a" stroke-width="0.85" stroke-opacity="0.65" fill="none"/>
<path d="M145.50 234.65V238.25" stroke="#333" stroke-width="0.75"/>
<path d="M22.90 238.62L26.30 242.94M22.90 242.94L26.30 238.62" stroke="#d0344c" stroke-width="0.95" stroke-opacity="0.8" fill="none"/>
<path d="M30.20 238.62L33.20 242.94M30.20 242.94L33.20 238.62" stroke="#6f8fc0" stroke-width="0.95" stroke-opacity="0.8" fill="none"/>
<path d="M64.45 239.22L67.55 242.33M64.45 242.33L67.55 239.22" stroke="#12386a" stroke-width="0.85" stroke-opacity="0.65" fill="none"/>
<path d="M100.00 238.97V242.58" stroke="#333" stroke-width="0.75"/>
<path d="M22.90 242.94L26.30 247.26M22.90 247.26L26.30 242.94" stroke="#d0344c" stroke-width="0.95" stroke-opacity="0.8" fill="none"/>
<path d="M30.20 242.94L33.20 247.26M30.20 247.26L33.20 242.94" stroke="#6f8fc0" stroke-width="0.95" stroke-opacity="0.8" fill="none"/>
<path d="M35.45 243.55L38.55 246.65M35.45 246.65L38.55 243.55" stroke="#12386a" stroke-width="0.85" stroke-opacity="0.65" fill="none"/>
<path d="M54.45 243.55L57.55 246.65M54.45 246.65L57.55 243.55" stroke="#12386a" stroke-width="0.85" stroke-opacity="0.65" fill="none"/>
<path d="M60.45 243.55L63.55 246.65M60.45 246.65L63.55 243.55" stroke="#12386a" stroke-width="0.85" stroke-opacity="0.65" fill="none"/>
<path d="M83.00 243.30V246.90" stroke="#333" stroke-width="0.75"/>
<path d="M22.90 247.27L26.30 251.59M22.90 251.59L26.30 247.27" stroke="#d0344c" stroke-width="0.95" stroke-opacity="0.8" fill="none"/>
<path d="M30.20 247.27L33.20 251.59M30.20 251.59L33.20 247.27" stroke="#6f8fc0" stroke-width="0.95" stroke-opacity="0.8" fill="none"/>
<path d="M82.00 247.62V251.23" stroke="#333" stroke-width="0.75"/>
<path d="M22.90 251.59L26.30 255.91M22.90 255.91L26.30 251.59" stroke="#d0344c" stroke-width="0.95" stroke-opacity="0.8" fill="none"/>
<path d="M30.20 251.59L33.20 255.91M30.20 255.91L33.20 251.59" stroke="#6f8fc0" stroke-width="0.95" stroke-opacity="0.8" fill="none"/>
<path d="M50.45 252.20L53.55 255.30M50.45 255.30L53.55 252.20" stroke="#a02030" stroke-width="0.85" stroke-opacity="0.7" fill="none"/>
<path d="M60.00 251.95V255.55" stroke="#333" stroke-width="0.75"/>
<path d="M22.90 255.91L26.30 260.24M22.90 260.24L26.30 255.91" stroke="#d0344c" stroke-width="0.95" stroke-opacity="0.8" fill="none"/>
<path d="M30.20 255.91L33.20 260.24M30.20 260.24L33.20 255.91" stroke="#6f8fc0" stroke-width="0.95" stroke-opacity="0.8" fill="none"/>
<path d="M32.45 256.52L35.55 259.62M32.45 259.62L35.55 256.52" stroke="#12386a" stroke-width="0.85" stroke-opacity="0.65" fill="none"/>
<path d="M37.50 256.27V259.88" stroke="#333" stroke-width="0.75"/>
<path d="M22.90 260.24L26.30 264.56M22.90 264.56L26.30 260.24" stroke="#d0344c" stroke-width="0.95" stroke-opacity="0.8" fill="none"/>
<path d="M30.20 260.24L33.20 264.56M30.20 264.56L33.20 260.24" stroke="#6f8fc0" stroke-width="0.95" stroke-opacity="0.8" fill="none"/>
<path d="M140.45 260.85L143.55 263.95M140.45 263.95L143.55 260.85" stroke="#a02030" stroke-width="0.85" stroke-opacity="0.7" fill="none"/>
<path d="M79.45 260.85L82.55 263.95M79.45 263.95L82.55 260.85" stroke="#12386a" stroke-width="0.85" stroke-opacity="0.65" fill="none"/>
<path d="M87.45 260.85L90.55 263.95M87.45 263.95L90.55 260.85" stroke="#12386a" stroke-width="0.85" stroke-opacity="0.65" fill="none"/>
<path d="M132.45 260.85L135.55 263.95M132.45 263.95L135.55 260.85" stroke="#12386a" stroke-width="0.85" stroke-opacity="0.65" fill="none"/>
<circle cx="149.50" cy="262.40" r="1.6" fill="#000"/>
<path d="M152.00 262.40H154.76" stroke="#000" stroke-width="0.9"/>
<path d="M157.00 262.40L154.20 261.06L154.20 263.74Z" fill="#000"/>
<path d="M22.90 264.56L26.30 268.89M22.90 268.89L26.30 264.56" stroke="#d0344c" stroke-width="0.95" stroke-opacity="0.8" fill="none"/>
<path d="M30.20 264.56L33.20 268.89M30.20 268.89L33.20 264.56" stroke="#6f8fc0" stroke-width="0.95" stroke-opacity="0.8" fill="none"/>
<path d="M101.45 265.18L104.55 268.28M101.45 268.28L104.55 265.18" stroke="#12386a" stroke-width="0.85" stroke-opacity="0.65" fill="none"/>
<path d="M113.45 265.18L116.55 268.28M113.45 268.28L116.55 265.18" stroke="#12386a" stroke-width="0.85" stroke-opacity="0.65" fill="none"/>
<circle cx="130.00" cy="266.73" r="1.6" fill="#000"/>
<path d="M148.00 266.73H150.76" stroke="#000" stroke-width="0.9"/>
<path d="M153.00 266.73L150.20 265.38L150.20 268.07Z" fill="#000"/>
<path d="M22.90 268.89L26.30 273.21M22.90 273.21L26.30 268.89" stroke="#d0344c" stroke-width="0.95" stroke-opacity="0.8" fill="none"/>
<path d="M30.20 268.89L33.20 273.21M30.20 273.21L33.20 268.89" stroke="#6f8fc0" stroke-width="0.95" stroke-opacity="0.8" fill="none"/>
<circle cx="49.00" cy="271.05" r="1.6" fill="#000"/>
<path d="M143.00 271.05H145.76" stroke="#000" stroke-width="0.9"/>
<path d="M148.00 271.05L145.20 269.71L145.20 272.39Z" fill="#000"/>
<path d="M22.90 273.21L26.30 277.54M22.90 277.54L26.30 273.21" stroke="#d0344c" stroke-width="0.95" stroke-opacity="0.8" fill="none"/>
<path d="M30.20 273.21L33.20 277.54M30.20 277.54L33.20 273.21" stroke="#6f8fc0" stroke-width="0.95" stroke-opacity="0.8" fill="none"/>
<path d="M27.45 273.82L30.55 276.93M27.45 276.93L30.55 273.82" stroke="#a02030" stroke-width="0.85" stroke-opacity="0.7" fill="none"/>
<circle cx="101.50" cy="275.38" r="1.6" fill="#000"/>
<path d="M130.00 275.38H132.76" stroke="#000" stroke-width="0.9"/>
<path d="M135.00 275.38L132.20 274.03L132.20 276.72Z" fill="#000"/>
<path d="M22.90 277.54L26.30 281.86M22.90 281.86L26.30 277.54" stroke="#d0344c" stroke-width="0.95" stroke-opacity="0.8" fill="none"/>
<path d="M30.20 277.54L33.20 281.86M30.20 281.86L33.20 277.54" stroke="#6f8fc0" stroke-width="0.95" stroke-opacity="0.8" fill="none"/>
<path d="M56.45 278.15L59.55 281.25M56.45 281.25L59.55 278.15" stroke="#12386a" stroke-width="0.85" stroke-opacity="0.65" fill="none"/>
<path d="M124.45 278.15L127.55 281.25M124.45 281.25L127.55 278.15" stroke="#12386a" stroke-width="0.85" stroke-opacity="0.65" fill="none"/>
<path d="M139.45 278.15L142.55 281.25M139.45 281.25L142.55 278.15" stroke="#12386a" stroke-width="0.85" stroke-opacity="0.65" fill="none"/>
<path d="M177.00 279.70H179.76" stroke="#000" stroke-width="0.9"/>
<path d="M182.00 279.70L179.20 278.36L179.20 281.04Z" fill="#000"/>
<path d="M22.90 281.86L26.30 286.19M22.90 286.19L26.30 281.86" stroke="#d0344c" stroke-width="0.95" stroke-opacity="0.8" fill="none"/>
<path d="M30.20 281.86L33.20 286.19M30.20 286.19L33.20 281.86" stroke="#6f8fc0" stroke-width="0.95" stroke-opacity="0.8" fill="none"/>
<path d="M107.45 282.47L110.55 285.57M107.45 285.57L110.55 282.47" stroke="#12386a" stroke-width="0.85" stroke-opacity="0.65" fill="none"/>
<path d="M122.45 282.47L125.55 285.57M122.45 285.57L125.55 282.47" stroke="#12386a" stroke-width="0.85" stroke-opacity="0.65" fill="none"/>
<path d="M138.45 282.47L141.55 285.57M138.45 285.57L141.55 282.47" stroke="#12386a" stroke-width="0.85" stroke-opacity="0.65" fill="none"/>
<path d="M153.45 282.47L156.55 285.57M153.45 285.57L156.55 282.47" stroke="#12386a" stroke-width="0.85" stroke-opacity="0.65" fill="none"/>
<path d="M165.00 284.02H167.76" stroke="#000" stroke-width="0.9"/>
<path d="M170.00 284.02L167.20 282.68L167.20 285.37Z" fill="#000"/>
<path d="M22.90 286.19L26.30 290.51M22.90 290.51L26.30 286.19" stroke="#d0344c" stroke-width="0.95" stroke-opacity="0.8" fill="none"/>
<path d="M30.20 286.19L33.20 290.51M30.20 290.51L33.20 286.19" stroke="#6f8fc0" stroke-width="0.95" stroke-opacity="0.8" fill="none"/>
<path d="M33.45 286.80L36.55 289.90M33.45 289.90L36.55 286.80" stroke="#a02030" stroke-width="0.85" stroke-opacity="0.7" fill="none"/>
<path d="M38.45 286.80L41.55 289.90M38.45 289.90L41.55 286.80" stroke="#a02030" stroke-width="0.85" stroke-opacity="0.7" fill="none"/>
<path d="M43.45 286.80L46.55 289.90M43.45 289.90L46.55 286.80" stroke="#a02030" stroke-width="0.85" stroke-opacity="0.7" fill="none"/>
<path d="M96.00 288.35H98.76" stroke="#000" stroke-width="0.9"/>
<path d="M101.00 288.35L98.20 287.01L98.20 289.69Z" fill="#000"/>
<path d="M22.90 290.51L26.30 294.84M22.90 294.84L26.30 290.51" stroke="#d0344c" stroke-width="0.95" stroke-opacity="0.8" fill="none"/>
<path d="M30.20 290.51L33.20 294.84M30.20 294.84L33.20 290.51" stroke="#6f8fc0" stroke-width="0.95" stroke-opacity="0.8" fill="none"/>
<path d="M34.45 291.12L37.55 294.23M34.45 294.23L37.55 291.12" stroke="#a02030" stroke-width="0.85" stroke-opacity="0.7" fill="none"/>
<path d="M37.45 291.12L40.55 294.23M37.45 294.23L40.55 291.12" stroke="#a02030" stroke-width="0.85" stroke-opacity="0.7" fill="none"/>
<circle cx="44.40" cy="292.68" r="1.6" fill="#000"/>
<rect x="280.40" y="18.52" width="8.60" height="2.95" fill="#dadada"/>
<rect x="289.00" y="18.52" width="140.00" height="2.95" fill="#2ca342"/>
<rect x="280.40" y="21.82" width="8.60" height="2.95" fill="#dadada"/>
<rect x="289.00" y="21.82" width="37.00" height="2.95" fill="#2ca342"/>
<rect x="280.40" y="25.11" width="8.60" height="2.95" fill="#dadada"/>
<rect x="289.00" y="25.11" width="119.00" height="2.95" fill="#2ca342"/>
<rect x="280.40" y="28.40" width="8.60" height="2.95" fill="#dadada"/>
<rect x="289.00" y="28.40" width="89.50" height="2.95" fill="#2ca342"/>
<rect x="280.40" y="31.69" width="8.60" height="2.95" fill="#dadada"/>
<rect x="289.00" y="31.69" width="91.00" height="2.95" fill="#2ca342"/>
<rect x="280.40" y="34.98" width="8.60" height="2.95" fill="#dadada"/>
<rect x="289.00" y="34.98" width="3.00" height="2.95" fill="#3565a8"/>
<rect x="292.00" y="34.98" width="72.00" height="2.95" fill="#2ca342"/>
<rect x="280.40" y="38.27" width="8.60" height="2.95" fill="#dadada"/>
<rect x="280.40" y="41.56" width="8.60" height="2.95" fill="#dadada"/>
<rect x="289.00" y="41.56" width="6.00" height="2.95" fill="#f2b530"/>
<rect x="295.00" y="41.56" width="2.50" height="2.95" fill="#3565a8"/>
<rect x="280.40" y="44.85" width="8.60" height="2.95" fill="#dadada"/>
<rect x="289.00" y="44.85" width="7.00" height="2.95" fill="#3565a8"/>
<rect x="280.40" y="48.14" width="8.60" height="2.95" fill="#dadada"/>
<rect x="289.00" y="48.14" width="7.00" height="2.95" fill="#3565a8"/>
<rect x="280.40" y="51.43" width="8.60" height="2.95" fill="#dadada"/>
<rect x="289.00" y="51.43" width="87.00" height="2.95" fill="#2ca342"/>
<rect x="280.40" y="54.72" width="8.60" height="2.95" fill="#dadada"/>
<rect x="289.00" y="54.72" width="75.50" height="2.95" fill="#2ca342"/>
<rect x="280.40" y="58.01" width="8.60" height="2.95" fill="#dadada"/>
<rect x="289.00" y="58.01" width="51.00" height="2.95" fill="#3565a8"/>
<rect x="280.40" y="61.30" width="8.60" height="2.95" fill="#dadada"/>
<rect x="289.00" y="61.30" width="19.00" height="2.95" fill="#2ca342"/>
<rect x="280.40" y="64.59" width="8.60" height="2.95" fill="#dadada"/>
<rect x="289.00" y="64.59" width="14.00" height="2.95" fill="#3565a8"/>
<rect x="280.40" y="67.88" width="8.60" height="2.95" fill="#dadada"/>
<rect x="289.00" y="67.88" width="17.00" height="2.95" fill="#2ca342"/>
<rect x="280.40" y="71.17" width="8.60" height="2.95" fill="#dadada"/>
<rect x="289.00" y="71.17" width="3.00" height="2.95" fill="#3565a8"/>
<rect x="280.40" y="74.46" width="8.60" height="2.95" fill="#dadada"/>
<rect x="289.00" y="74.46" width="15.00" height="2.95" fill="#2ca342"/>
<rect x="280.40" y="77.75" width="8.60" height="2.95" fill="#dadada"/>
<rect x="289.00" y="77.75" width="8.00" height="2.95" fill="#3565a8"/>
<rect x="280.40" y="81.04" width="8.60" height="2.95" fill="#dadada"/>
<rect x="289.00" y="81.04" width="7.00" height="2.95" fill="#2ca342"/>
<rect x="280.40" y="84.33" width="8.60" height="2.95" fill="#dadada"/>
<rect x="289.00" y="84.33" width="7.00" height="2.95" fill="#2ca342"/>
<rect x="280.40" y="87.62" width="8.60" height="2.95" fill="#dadada"/>
<rect x="289.00" y="87.62" width="3.00" height="2.95" fill="#3565a8"/>
<rect x="280.40" y="90.91" width="8.60" height="2.95" fill="#dadada"/>
<rect x="289.00" y="90.91" width="10.00" height="2.95" fill="#2ca342"/>
<rect x="299.00" y="90.91" width="3.00" height="2.95" fill="#e3899e"/>
<rect x="280.40" y="94.20" width="8.60" height="2.95" fill="#dadada"/>
<rect x="289.00" y="94.20" width="16.00" height="2.95" fill="#3565a8"/>
<rect x="305.00" y="94.20" width="53.00" height="2.95" fill="#2ca342"/>
<rect x="280.40" y="97.49" width="8.60" height="2.95" fill="#dadada"/>
<rect x="289.00" y="97.49" width="6.00" height="2.95" fill="#2ca342"/>
<rect x="295.00" y="97.49" width="6.00" height="2.95" fill="#e3899e"/>
<rect x="280.40" y="100.78" width="8.60" height="2.95" fill="#dadada"/>
<rect x="280.40" y="104.07" width="8.60" height="2.95" fill="#dadada"/>
<rect x="289.00" y="104.07" width="39.00" height="2.95" fill="#2ca342"/>
<rect x="280.40" y="107.36" width="8.60" height="2.95" fill="#dadada"/>
<rect x="289.00" y="107.36" width="4.00" height="2.95" fill="#3565a8"/>
<rect x="293.00" y="107.36" width="11.00" height="2.95" fill="#e3899e"/>
<rect x="280.40" y="110.66" width="8.60" height="2.95" fill="#dadada"/>
<rect x="289.00" y="110.66" width="41.00" height="2.95" fill="#3565a8"/>
<rect x="330.00" y="110.66" width="27.00" height="2.95" fill="#e3899e"/>
<rect x="280.40" y="113.95" width="8.60" height="2.95" fill="#dadada"/>
<rect x="289.00" y="113.95" width="4.00" height="2.95" fill="#3565a8"/>
<rect x="280.40" y="117.24" width="8.60" height="2.95" fill="#dadada"/>
<rect x="280.40" y="120.53" width="8.60" height="2.95" fill="#dadada"/>
<rect x="289.00" y="120.53" width="7.00" height="2.95" fill="#f2b530"/>
<rect x="280.40" y="123.82" width="8.60" height="2.95" fill="#dadada"/>
<rect x="289.00" y="123.82" width="2.00" height="2.95" fill="#f2b530"/>
<rect x="291.00" y="123.82" width="3.00" height="2.95" fill="#2ca342"/>
<rect x="280.40" y="127.11" width="8.60" height="2.95" fill="#dadada"/>
<rect x="289.00" y="127.11" width="4.00" height="2.95" fill="#3565a8"/>
<rect x="280.40" y="130.40" width="8.60" height="2.95" fill="#dadada"/>
<rect x="289.00" y="130.40" width="2.00" height="2.95" fill="#f2b530"/>
<rect x="291.00" y="130.40" width="10.00" height="2.95" fill="#e3899e"/>
<rect x="280.40" y="133.69" width="8.60" height="2.95" fill="#dadada"/>
<rect x="289.00" y="133.69" width="6.50" height="2.95" fill="#3565a8"/>
<rect x="280.40" y="136.98" width="8.60" height="2.95" fill="#dadada"/>
<rect x="289.00" y="136.98" width="3.00" height="2.95" fill="#f2b530"/>
<rect x="292.00" y="136.98" width="26.00" height="2.95" fill="#e3899e"/>
<rect x="280.40" y="140.27" width="8.60" height="2.95" fill="#dadada"/>
<rect x="291.00" y="140.27" width="8.00" height="2.95" fill="#3565a8"/>
<rect x="299.00" y="140.27" width="4.00" height="2.95" fill="#e3899e"/>
<rect x="280.40" y="143.56" width="8.60" height="2.95" fill="#dadada"/>
<rect x="289.00" y="143.56" width="2.00" height="2.95" fill="#f2b530"/>
<rect x="280.40" y="146.85" width="8.60" height="2.95" fill="#dadada"/>
<rect x="289.00" y="146.85" width="13.00" height="2.95" fill="#2ca342"/>
<rect x="280.40" y="150.14" width="8.60" height="2.95" fill="#dadada"/>
<rect x="289.00" y="150.14" width="9.00" height="2.95" fill="#3565a8"/>
<rect x="298.00" y="150.14" width="4.00" height="2.95" fill="#e3899e"/>
<rect x="280.40" y="153.43" width="8.60" height="2.95" fill="#dadada"/>
<rect x="289.00" y="153.43" width="12.00" height="2.95" fill="#e3899e"/>
<rect x="280.40" y="156.72" width="8.60" height="2.95" fill="#dadada"/>
<rect x="288.00" y="156.72" width="15.00" height="2.95" fill="#e3899e"/>
<rect x="280.40" y="160.01" width="8.60" height="2.95" fill="#dadada"/>
<rect x="288.00" y="160.01" width="12.00" height="2.95" fill="#e3899e"/>
<rect x="280.40" y="163.30" width="8.60" height="2.95" fill="#dadada"/>
<rect x="289.00" y="163.30" width="2.00" height="2.95" fill="#f2b530"/>
<rect x="291.00" y="163.30" width="10.00" height="2.95" fill="#e3899e"/>
<rect x="280.40" y="166.59" width="8.60" height="2.95" fill="#dadada"/>
<rect x="289.00" y="166.59" width="2.00" height="2.95" fill="#3565a8"/>
<rect x="291.00" y="166.59" width="7.00" height="2.95" fill="#e3899e"/>
<rect x="280.40" y="169.88" width="8.60" height="2.95" fill="#dadada"/>
<rect x="289.00" y="169.88" width="7.00" height="2.95" fill="#e3899e"/>
<rect x="280.40" y="173.17" width="8.60" height="2.95" fill="#dadada"/>
<rect x="288.00" y="173.17" width="6.00" height="2.95" fill="#e3899e"/>
<rect x="280.40" y="176.46" width="8.60" height="2.95" fill="#dadada"/>
<rect x="288.00" y="176.46" width="7.00" height="2.95" fill="#e3899e"/>
<rect x="280.40" y="179.75" width="8.60" height="2.95" fill="#dadada"/>
<rect x="288.00" y="179.75" width="3.00" height="2.95" fill="#e3899e"/>
<rect x="280.40" y="183.04" width="8.60" height="2.95" fill="#dadada"/>
<rect x="289.00" y="183.04" width="125.00" height="2.95" fill="#2ca342"/>
<rect x="280.40" y="186.33" width="8.60" height="2.95" fill="#dadada"/>
<rect x="289.00" y="186.33" width="127.00" height="2.95" fill="#2ca342"/>
<rect x="280.40" y="189.62" width="8.60" height="2.95" fill="#dadada"/>
<rect x="289.00" y="189.62" width="24.00" height="2.95" fill="#2ca342"/>
<rect x="280.40" y="192.91" width="8.60" height="2.95" fill="#dadada"/>
<rect x="289.00" y="192.91" width="108.00" height="2.95" fill="#2ca342"/>
<rect x="280.40" y="196.20" width="8.60" height="2.95" fill="#dadada"/>
<rect x="289.00" y="196.20" width="3.00" height="2.95" fill="#3565a8"/>
<rect x="292.00" y="196.20" width="118.00" height="2.95" fill="#2ca342"/>
<rect x="280.40" y="199.49" width="8.60" height="2.95" fill="#dadada"/>
<rect x="289.00" y="199.49" width="69.00" height="2.95" fill="#2ca342"/>
<rect x="280.40" y="202.79" width="8.60" height="2.95" fill="#dadada"/>
<rect x="289.00" y="202.79" width="51.00" height="2.95" fill="#2ca342"/>
<rect x="280.40" y="206.08" width="8.60" height="2.95" fill="#dadada"/>
<rect x="289.00" y="206.08" width="29.00" height="2.95" fill="#3565a8"/>
<rect x="280.40" y="209.37" width="8.60" height="2.95" fill="#dadada"/>
<rect x="289.00" y="209.37" width="31.00" height="2.95" fill="#2ca342"/>
<rect x="280.40" y="212.66" width="8.60" height="2.95" fill="#dadada"/>
<rect x="289.00" y="212.66" width="3.00" height="2.95" fill="#3565a8"/>
<rect x="280.40" y="215.95" width="8.60" height="2.95" fill="#dadada"/>
<rect x="289.00" y="215.95" width="76.00" height="2.95" fill="#2ca342"/>
<rect x="280.40" y="219.24" width="8.60" height="2.95" fill="#dadada"/>
<rect x="289.00" y="219.24" width="62.00" height="2.95" fill="#2ca342"/>
<rect x="280.40" y="222.53" width="8.60" height="2.95" fill="#dadada"/>
<rect x="289.00" y="222.53" width="7.00" height="2.95" fill="#f2b530"/>
<rect x="296.00" y="222.53" width="7.00" height="2.95" fill="#3565a8"/>
<rect x="303.00" y="222.53" width="39.00" height="2.95" fill="#2ca342"/>
<rect x="280.40" y="225.82" width="8.60" height="2.95" fill="#dadada"/>
<rect x="289.00" y="225.82" width="49.00" height="2.95" fill="#2ca342"/>
<rect x="280.40" y="229.11" width="8.60" height="2.95" fill="#dadada"/>
<rect x="289.00" y="229.11" width="44.00" height="2.95" fill="#2ca342"/>
<rect x="280.40" y="232.40" width="8.60" height="2.95" fill="#dadada"/>
<rect x="289.00" y="232.40" width="42.00" height="2.95" fill="#3565a8"/>
<rect x="280.40" y="235.69" width="8.60" height="2.95" fill="#dadada"/>
<rect x="289.00" y="235.69" width="23.00" height="2.95" fill="#2ca342"/>
<rect x="280.40" y="238.98" width="8.60" height="2.95" fill="#dadada"/>
<rect x="289.00" y="238.98" width="24.00" height="2.95" fill="#2ca342"/>
<rect x="280.40" y="242.27" width="8.60" height="2.95" fill="#dadada"/>
<rect x="289.00" y="242.27" width="7.00" height="2.95" fill="#3565a8"/>
<rect x="280.40" y="245.56" width="8.60" height="2.95" fill="#dadada"/>
<rect x="289.00" y="245.56" width="1.00" height="2.95" fill="#2ca342"/>
<rect x="280.40" y="248.85" width="8.60" height="2.95" fill="#dadada"/>
<rect x="289.00" y="248.85" width="97.00" height="2.95" fill="#2ca342"/>
<rect x="386.00" y="248.85" width="42.00" height="2.95" fill="#e3899e"/>
<rect x="280.40" y="252.14" width="8.60" height="2.95" fill="#dadada"/>
<rect x="289.00" y="252.14" width="100.00" height="2.95" fill="#2ca342"/>
<rect x="389.00" y="252.14" width="21.00" height="2.95" fill="#e3899e"/>
<rect x="280.40" y="255.43" width="8.60" height="2.95" fill="#dadada"/>
<rect x="289.00" y="255.43" width="11.00" height="2.95" fill="#2ca342"/>
<rect x="300.00" y="255.43" width="96.00" height="2.95" fill="#e3899e"/>
<rect x="280.40" y="258.72" width="8.60" height="2.95" fill="#dadada"/>
<rect x="289.00" y="258.72" width="82.00" height="2.95" fill="#3565a8"/>
<rect x="280.40" y="262.01" width="8.60" height="2.95" fill="#dadada"/>
<rect x="289.00" y="262.01" width="23.00" height="2.95" fill="#2ca342"/>
<rect x="312.00" y="262.01" width="10.00" height="2.95" fill="#e3899e"/>
<rect x="280.40" y="265.30" width="8.60" height="2.95" fill="#dadada"/>
<rect x="289.00" y="265.30" width="10.00" height="2.95" fill="#3565a8"/>
<rect x="280.40" y="268.59" width="8.60" height="2.95" fill="#dadada"/>
<rect x="289.00" y="268.59" width="4.00" height="2.95" fill="#3565a8"/>
<rect x="280.40" y="271.88" width="8.60" height="2.95" fill="#dadada"/>
<rect x="289.00" y="271.88" width="77.00" height="2.95" fill="#2ca342"/>
<rect x="280.40" y="275.17" width="8.60" height="2.95" fill="#dadada"/>
<rect x="289.00" y="275.17" width="114.00" height="2.95" fill="#2ca342"/>
<rect x="280.40" y="278.46" width="8.60" height="2.95" fill="#dadada"/>
<rect x="289.00" y="278.46" width="7.00" height="2.95" fill="#3565a8"/>
<rect x="280.40" y="281.75" width="8.60" height="2.95" fill="#dadada"/>
<rect x="289.00" y="281.75" width="72.00" height="2.95" fill="#2ca342"/>
<rect x="280.40" y="285.04" width="8.60" height="2.95" fill="#dadada"/>
<rect x="289.00" y="285.04" width="123.50" height="2.95" fill="#3565a8"/>
<rect x="412.50" y="285.04" width="3.50" height="2.95" fill="#e3899e"/>
<rect x="280.40" y="288.33" width="8.60" height="2.95" fill="#dadada"/>
<rect x="289.00" y="288.33" width="4.00" height="2.95" fill="#3565a8"/>
<rect x="293.00" y="288.33" width="8.00" height="2.95" fill="#e3899e"/>
<rect x="280.40" y="291.62" width="3.60" height="2.95" fill="#dadada"/>
<path d="M279.75 18.36L281.85 21.64M279.75 21.64L281.85 18.36" stroke="#d4304a" stroke-width="0.85" stroke-opacity="0.8" fill="none"/>
<path d="M286.10 18.36L289.10 21.64M286.10 21.64L289.10 18.36" stroke="#d4304a" stroke-width="0.85" stroke-opacity="0.8" fill="none"/>
<path d="M345.70 18.70L348.30 21.30M345.70 21.30L348.30 18.70" stroke="#a02030" stroke-width="0.8" stroke-opacity="0.7" fill="none"/>
<path d="M369.70 18.70L372.30 21.30M369.70 21.30L372.30 18.70" stroke="#a02030" stroke-width="0.8" stroke-opacity="0.7" fill="none"/>
<path d="M418.70 18.70L421.30 21.30M418.70 21.30L421.30 18.70" stroke="#a02030" stroke-width="0.8" stroke-opacity="0.7" fill="none"/>
<path d="M422.70 18.70L425.30 21.30M422.70 21.30L425.30 18.70" stroke="#a02030" stroke-width="0.8" stroke-opacity="0.7" fill="none"/>
<path d="M434.00 20.00H436.42" stroke="#000" stroke-width="0.9"/>
<path d="M438.50 20.00L435.90 18.75L435.90 21.25Z" fill="#000"/>
<path d="M279.75 21.65L281.85 24.93M279.75 24.93L281.85 21.65" stroke="#d4304a" stroke-width="0.85" stroke-opacity="0.8" fill="none"/>
<path d="M286.10 21.65L289.10 24.93M286.10 24.93L289.10 21.65" stroke="#d4304a" stroke-width="0.85" stroke-opacity="0.8" fill="none"/>
<path d="M320.70 21.99L323.30 24.59M320.70 24.59L323.30 21.99" stroke="#a02030" stroke-width="0.8" stroke-opacity="0.7" fill="none"/>
<path d="M415.00 23.29H417.42" stroke="#000" stroke-width="0.9"/>
<path d="M419.50 23.29L416.90 22.04L416.90 24.54Z" fill="#000"/>
<path d="M279.75 24.94L281.85 28.22M279.75 28.22L281.85 24.94" stroke="#d4304a" stroke-width="0.85" stroke-opacity="0.8" fill="none"/>
<path d="M286.10 24.94L289.10 28.22M286.10 28.22L289.10 24.94" stroke="#d4304a" stroke-width="0.85" stroke-opacity="0.8" fill="none"/>
<path d="M304.70 25.28L307.30 27.88M304.70 27.88L307.30 25.28" stroke="#a02030" stroke-width="0.8" stroke-opacity="0.7" fill="none"/>
<path d="M335.70 25.28L338.30 27.88M335.70 27.88L338.30 25.28" stroke="#a02030" stroke-width="0.8" stroke-opacity="0.7" fill="none"/>
<path d="M343.70 25.28L346.30 27.88M343.70 27.88L346.30 25.28" stroke="#a02030" stroke-width="0.8" stroke-opacity="0.7" fill="none"/>
<path d="M373.70 25.28L376.30 27.88M373.70 27.88L376.30 25.28" stroke="#a02030" stroke-width="0.8" stroke-opacity="0.7" fill="none"/>
<path d="M389.70 25.28L392.30 27.88M389.70 27.88L392.30 25.28" stroke="#a02030" stroke-width="0.8" stroke-opacity="0.7" fill="none"/>
<path d="M411.00 26.58H413.42" stroke="#000" stroke-width="0.9"/>
<path d="M415.50 26.58L412.90 25.33L412.90 27.83Z" fill="#000"/>
<path d="M279.75 28.23L281.85 31.51M279.75 31.51L281.85 28.23" stroke="#d4304a" stroke-width="0.85" stroke-opacity="0.8" fill="none"/>
<path d="M286.10 28.23L289.10 31.51M286.10 31.51L289.10 28.23" stroke="#d4304a" stroke-width="0.85" stroke-opacity="0.8" fill="none"/>
<path d="M309.70 28.57L312.30 31.17M309.70 31.17L312.30 28.57" stroke="#a02030" stroke-width="0.8" stroke-opacity="0.7" fill="none"/>
<path d="M372.70 28.57L375.30 31.17M372.70 31.17L375.30 28.57" stroke="#a02030" stroke-width="0.8" stroke-opacity="0.7" fill="none"/>
<path d="M384.00 29.87H386.42" stroke="#000" stroke-width="0.9"/>
<path d="M388.50 29.87L385.90 28.62L385.90 31.12Z" fill="#000"/>
<path d="M279.75 31.52L281.85 34.80M279.75 34.80L281.85 31.52" stroke="#d4304a" stroke-width="0.85" stroke-opacity="0.8" fill="none"/>
<path d="M286.10 31.52L289.10 34.80M286.10 34.80L289.10 31.52" stroke="#d4304a" stroke-width="0.85" stroke-opacity="0.8" fill="none"/>
<path d="M289.70 31.86L292.30 34.46M289.70 34.46L292.30 31.86" stroke="#12386a" stroke-width="0.8" stroke-opacity="0.65" fill="none"/>
<path d="M294.70 31.86L297.30 34.46M294.70 34.46L297.30 31.86" stroke="#12386a" stroke-width="0.8" stroke-opacity="0.65" fill="none"/>
<path d="M299.70 31.86L302.30 34.46M299.70 34.46L302.30 31.86" stroke="#12386a" stroke-width="0.8" stroke-opacity="0.65" fill="none"/>
<path d="M308.70 31.86L311.30 34.46M308.70 34.46L311.30 31.86" stroke="#12386a" stroke-width="0.8" stroke-opacity="0.65" fill="none"/>
<path d="M316.70 31.86L319.30 34.46M316.70 34.46L319.30 31.86" stroke="#12386a" stroke-width="0.8" stroke-opacity="0.65" fill="none"/>
<path d="M325.70 31.86L328.30 34.46M325.70 34.46L328.30 31.86" stroke="#12386a" stroke-width="0.8" stroke-opacity="0.65" fill="none"/>
<path d="M333.70 31.86L336.30 34.46M333.70 34.46L336.30 31.86" stroke="#12386a" stroke-width="0.8" stroke-opacity="0.65" fill="none"/>
<path d="M343.70 31.86L346.30 34.46M343.70 34.46L346.30 31.86" stroke="#12386a" stroke-width="0.8" stroke-opacity="0.65" fill="none"/>
<path d="M350.70 31.86L353.30 34.46M350.70 34.46L353.30 31.86" stroke="#12386a" stroke-width="0.8" stroke-opacity="0.65" fill="none"/>
<path d="M358.70 31.86L361.30 34.46M358.70 34.46L361.30 31.86" stroke="#12386a" stroke-width="0.8" stroke-opacity="0.65" fill="none"/>
<path d="M365.70 31.86L368.30 34.46M365.70 34.46L368.30 31.86" stroke="#12386a" stroke-width="0.8" stroke-opacity="0.65" fill="none"/>
<path d="M373.70 31.86L376.30 34.46M373.70 34.46L376.30 31.86" stroke="#12386a" stroke-width="0.8" stroke-opacity="0.65" fill="none"/>
<path d="M382.00 33.16H384.42" stroke="#000" stroke-width="0.9"/>
<path d="M386.50 33.16L383.90 31.91L383.90 34.41Z" fill="#000"/>
<path d="M279.75 34.81L281.85 38.09M279.75 38.09L281.85 34.81" stroke="#d4304a" stroke-width="0.85" stroke-opacity="0.8" fill="none"/>
<path d="M286.10 34.81L289.10 38.09M286.10 38.09L289.10 34.81" stroke="#d4304a" stroke-width="0.85" stroke-opacity="0.8" fill="none"/>
<path d="M331.70 35.15L334.30 37.75M331.70 37.75L334.30 35.15" stroke="#a02030" stroke-width="0.8" stroke-opacity="0.7" fill="none"/>
<path d="M366.00 36.45H368.42" stroke="#000" stroke-width="0.9"/>
<path d="M370.50 36.45L367.90 35.20L367.90 37.70Z" fill="#000"/>
<path d="M279.75 38.10L281.85 41.38M279.75 41.38L281.85 38.10" stroke="#d4304a" stroke-width="0.85" stroke-opacity="0.8" fill="none"/>
<path d="M286.10 38.10L289.10 41.38M286.10 41.38L289.10 38.10" stroke="#d4304a" stroke-width="0.85" stroke-opacity="0.8" fill="none"/>
<path d="M287.70 38.44L290.30 41.04M287.70 41.04L290.30 38.44" stroke="#a02030" stroke-width="0.8" stroke-opacity="0.7" fill="none"/>
<path d="M354.00 39.74H356.42" stroke="#000" stroke-width="0.9"/>
<path d="M358.50 39.74L355.90 38.49L355.90 40.99Z" fill="#000"/>
<path d="M279.75 41.39L281.85 44.67M279.75 44.67L281.85 41.39" stroke="#d4304a" stroke-width="0.85" stroke-opacity="0.8" fill="none"/>
<path d="M286.10 41.39L289.10 44.67M286.10 44.67L289.10 41.39" stroke="#d4304a" stroke-width="0.85" stroke-opacity="0.8" fill="none"/>
<path d="M304.00 43.03H306.42" stroke="#000" stroke-width="0.9"/>
<path d="M308.50 43.03L305.90 41.78L305.90 44.28Z" fill="#000"/>
<path d="M279.75 44.68L281.85 47.96M279.75 47.96L281.85 44.68" stroke="#d4304a" stroke-width="0.85" stroke-opacity="0.8" fill="none"/>
<path d="M286.10 44.68L289.10 47.96M286.10 47.96L289.10 44.68" stroke="#d4304a" stroke-width="0.85" stroke-opacity="0.8" fill="none"/>
<path d="M298.00 46.32H300.42" stroke="#000" stroke-width="0.9"/>
<path d="M302.50 46.32L299.90 45.07L299.90 47.57Z" fill="#000"/>
<path d="M279.75 47.97L281.85 51.25M279.75 51.25L281.85 47.97" stroke="#d4304a" stroke-width="0.85" stroke-opacity="0.8" fill="none"/>
<path d="M286.10 47.97L289.10 51.25M286.10 51.25L289.10 47.97" stroke="#d4304a" stroke-width="0.85" stroke-opacity="0.8" fill="none"/>
<path d="M299.00 49.61H301.42" stroke="#000" stroke-width="0.9"/>
<path d="M303.50 49.61L300.90 48.37L300.90 50.86Z" fill="#000"/>
<path d="M279.75 51.26L281.85 54.54M279.75 54.54L281.85 51.26" stroke="#d4304a" stroke-width="0.85" stroke-opacity="0.8" fill="none"/>
<path d="M286.10 51.26L289.10 54.54M286.10 54.54L289.10 51.26" stroke="#d4304a" stroke-width="0.85" stroke-opacity="0.8" fill="none"/>
<path d="M390.00 51.45V54.35" stroke="#333" stroke-width="0.75"/>
<path d="M279.75 54.55L281.85 57.83M279.75 57.83L281.85 54.55" stroke="#d4304a" stroke-width="0.85" stroke-opacity="0.8" fill="none"/>
<path d="M286.10 54.55L289.10 57.83M286.10 57.83L289.10 54.55" stroke="#d4304a" stroke-width="0.85" stroke-opacity="0.8" fill="none"/>
<path d="M327.70 54.89L330.30 57.49M327.70 57.49L330.30 54.89" stroke="#a02030" stroke-width="0.8" stroke-opacity="0.7" fill="none"/>
<path d="M339.70 54.89L342.30 57.49M339.70 57.49L342.30 54.89" stroke="#a02030" stroke-width="0.8" stroke-opacity="0.7" fill="none"/>
<path d="M343.70 54.89L346.30 57.49M343.70 57.49L346.30 54.89" stroke="#a02030" stroke-width="0.8" stroke-opacity="0.7" fill="none"/>
<path d="M348.70 54.89L351.30 57.49M348.70 57.49L351.30 54.89" stroke="#a02030" stroke-width="0.8" stroke-opacity="0.7" fill="none"/>
<path d="M360.70 54.89L363.30 57.49M360.70 57.49L363.30 54.89" stroke="#a02030" stroke-width="0.8" stroke-opacity="0.7" fill="none"/>
<path d="M279.75 57.84L281.85 61.12M279.75 61.12L281.85 57.84" stroke="#d4304a" stroke-width="0.85" stroke-opacity="0.8" fill="none"/>
<path d="M286.10 57.84L289.10 61.12M286.10 61.12L289.10 57.84" stroke="#d4304a" stroke-width="0.85" stroke-opacity="0.8" fill="none"/>
<path d="M298.70 58.18L301.30 60.78M298.70 60.78L301.30 58.18" stroke="#12386a" stroke-width="0.8" stroke-opacity="0.65" fill="none"/>
<path d="M308.70 58.18L311.30 60.78M308.70 60.78L311.30 58.18" stroke="#12386a" stroke-width="0.8" stroke-opacity="0.65" fill="none"/>
<path d="M318.70 58.18L321.30 60.78M318.70 60.78L321.30 58.18" stroke="#12386a" stroke-width="0.8" stroke-opacity="0.65" fill="none"/>
<path d="M328.70 58.18L331.30 60.78M328.70 60.78L331.30 58.18" stroke="#12386a" stroke-width="0.8" stroke-opacity="0.65" fill="none"/>
<path d="M359.00 58.03V60.93" stroke="#333" stroke-width="0.75"/>
<path d="M279.75 61.13L281.85 64.41M279.75 64.41L281.85 61.13" stroke="#d4304a" stroke-width="0.85" stroke-opacity="0.8" fill="none"/>
<path d="M286.10 61.13L289.10 64.41M286.10 64.41L289.10 61.13" stroke="#d4304a" stroke-width="0.85" stroke-opacity="0.8" fill="none"/>
<path d="M337.50 61.32V64.22" stroke="#333" stroke-width="0.75"/>
<path d="M279.75 64.43L281.85 67.71M279.75 67.71L281.85 64.43" stroke="#d4304a" stroke-width="0.85" stroke-opacity="0.8" fill="none"/>
<path d="M286.10 64.43L289.10 67.71M286.10 67.71L289.10 64.43" stroke="#d4304a" stroke-width="0.85" stroke-opacity="0.8" fill="none"/>
<path d="M320.00 64.62V67.52" stroke="#333" stroke-width="0.75"/>
<path d="M279.75 67.72L281.85 71.00M279.75 71.00L281.85 67.72" stroke="#d4304a" stroke-width="0.85" stroke-opacity="0.8" fill="none"/>
<path d="M286.10 67.72L289.10 71.00M286.10 71.00L289.10 67.72" stroke="#d4304a" stroke-width="0.85" stroke-opacity="0.8" fill="none"/>
<path d="M294.70 68.06L297.30 70.66M294.70 70.66L297.30 68.06" stroke="#a02030" stroke-width="0.8" stroke-opacity="0.7" fill="none"/>
<path d="M298.70 68.06L301.30 70.66M298.70 70.66L301.30 68.06" stroke="#a02030" stroke-width="0.8" stroke-opacity="0.7" fill="none"/>
<path d="M317.00 67.91V70.81" stroke="#333" stroke-width="0.75"/>
<path d="M279.75 71.01L281.85 74.29M279.75 74.29L281.85 71.01" stroke="#d4304a" stroke-width="0.85" stroke-opacity="0.8" fill="none"/>
<path d="M286.10 71.01L289.10 74.29M286.10 74.29L289.10 71.01" stroke="#d4304a" stroke-width="0.85" stroke-opacity="0.8" fill="none"/>
<path d="M308.00 71.20V74.10" stroke="#333" stroke-width="0.75"/>
<path d="M279.75 74.30L281.85 77.58M279.75 77.58L281.85 74.30" stroke="#d4304a" stroke-width="0.85" stroke-opacity="0.8" fill="none"/>
<path d="M286.10 74.30L289.10 77.58M286.10 77.58L289.10 74.30" stroke="#d4304a" stroke-width="0.85" stroke-opacity="0.8" fill="none"/>
<path d="M291.70 74.64L294.30 77.24M291.70 77.24L294.30 74.64" stroke="#a02030" stroke-width="0.8" stroke-opacity="0.7" fill="none"/>
<path d="M296.70 74.64L299.30 77.24M296.70 77.24L299.30 74.64" stroke="#a02030" stroke-width="0.8" stroke-opacity="0.7" fill="none"/>
<path d="M279.75 77.59L281.85 80.87M279.75 80.87L281.85 77.59" stroke="#d4304a" stroke-width="0.85" stroke-opacity="0.8" fill="none"/>
<path d="M286.10 77.59L289.10 80.87M286.10 80.87L289.10 77.59" stroke="#d4304a" stroke-width="0.85" stroke-opacity="0.8" fill="none"/>
<path d="M279.75 80.88L281.85 84.16M279.75 84.16L281.85 80.88" stroke="#d4304a" stroke-width="0.85" stroke-opacity="0.8" fill="none"/>
<path d="M286.10 80.88L289.10 84.16M286.10 84.16L289.10 80.88" stroke="#d4304a" stroke-width="0.85" stroke-opacity="0.8" fill="none"/>
<path d="M287.70 81.22L290.30 83.82M287.70 83.82L290.30 81.22" stroke="#a02030" stroke-width="0.8" stroke-opacity="0.7" fill="none"/>
<path d="M279.75 84.17L281.85 87.45M279.75 87.45L281.85 84.17" stroke="#d4304a" stroke-width="0.85" stroke-opacity="0.8" fill="none"/>
<path d="M286.10 84.17L289.10 87.45M286.10 87.45L289.10 84.17" stroke="#d4304a" stroke-width="0.85" stroke-opacity="0.8" fill="none"/>
<path d="M279.75 87.46L281.85 90.74M279.75 90.74L281.85 87.46" stroke="#d4304a" stroke-width="0.85" stroke-opacity="0.8" fill="none"/>
<path d="M286.10 87.46L289.10 90.74M286.10 90.74L289.10 87.46" stroke="#d4304a" stroke-width="0.85" stroke-opacity="0.8" fill="none"/>
<path d="M279.75 90.75L281.85 94.03M279.75 94.03L281.85 90.75" stroke="#d4304a" stroke-width="0.85" stroke-opacity="0.8" fill="none"/>
<path d="M286.10 90.75L289.10 94.03M286.10 94.03L289.10 90.75" stroke="#d4304a" stroke-width="0.85" stroke-opacity="0.8" fill="none"/>
<circle cx="299.50" cy="92.39" r="1.35" fill="#000"/>
<path d="M419.00 92.39H421.42" stroke="#000" stroke-width="0.9"/>
<path d="M423.50 92.39L420.90 91.14L420.90 93.64Z" fill="#000"/>
<path d="M279.75 94.04L281.85 97.32M279.75 97.32L281.85 94.04" stroke="#d4304a" stroke-width="0.85" stroke-opacity="0.8" fill="none"/>
<path d="M286.10 94.04L289.10 97.32M286.10 97.32L289.10 94.04" stroke="#d4304a" stroke-width="0.85" stroke-opacity="0.8" fill="none"/>
<path d="M339.70 94.38L342.30 96.98M339.70 96.98L342.30 94.38" stroke="#a02030" stroke-width="0.8" stroke-opacity="0.7" fill="none"/>
<path d="M347.70 94.38L350.30 96.98M347.70 96.98L350.30 94.38" stroke="#a02030" stroke-width="0.8" stroke-opacity="0.7" fill="none"/>
<circle cx="358.00" cy="95.68" r="1.35" fill="#000"/>
<path d="M401.50 94.23V97.13" stroke="#333" stroke-width="0.75"/>
<path d="M279.75 97.33L281.85 100.61M279.75 100.61L281.85 97.33" stroke="#d4304a" stroke-width="0.85" stroke-opacity="0.8" fill="none"/>
<path d="M286.10 97.33L289.10 100.61M286.10 100.61L289.10 97.33" stroke="#d4304a" stroke-width="0.85" stroke-opacity="0.8" fill="none"/>
<circle cx="296.00" cy="98.97" r="1.35" fill="#000"/>
<path d="M386.00 97.52V100.42" stroke="#333" stroke-width="0.75"/>
<path d="M279.75 100.62L281.85 103.90M279.75 103.90L281.85 100.62" stroke="#d4304a" stroke-width="0.85" stroke-opacity="0.8" fill="none"/>
<path d="M286.10 100.62L289.10 103.90M286.10 103.90L289.10 100.62" stroke="#d4304a" stroke-width="0.85" stroke-opacity="0.8" fill="none"/>
<circle cx="289.00" cy="102.26" r="1.35" fill="#000"/>
<path d="M372.00 100.81V103.71" stroke="#333" stroke-width="0.75"/>
<path d="M279.75 103.91L281.85 107.19M279.75 107.19L281.85 103.91" stroke="#d4304a" stroke-width="0.85" stroke-opacity="0.8" fill="none"/>
<path d="M286.10 103.91L289.10 107.19M286.10 107.19L289.10 103.91" stroke="#d4304a" stroke-width="0.85" stroke-opacity="0.8" fill="none"/>
<path d="M298.70 104.25L301.30 106.85M298.70 106.85L301.30 104.25" stroke="#a02030" stroke-width="0.8" stroke-opacity="0.7" fill="none"/>
<path d="M306.70 104.25L309.30 106.85M306.70 106.85L309.30 104.25" stroke="#a02030" stroke-width="0.8" stroke-opacity="0.7" fill="none"/>
<path d="M314.70 104.25L317.30 106.85M314.70 106.85L317.30 104.25" stroke="#a02030" stroke-width="0.8" stroke-opacity="0.7" fill="none"/>
<path d="M320.70 104.25L323.30 106.85M320.70 106.85L323.30 104.25" stroke="#a02030" stroke-width="0.8" stroke-opacity="0.7" fill="none"/>
<circle cx="328.00" cy="105.55" r="1.35" fill="#000"/>
<path d="M362.80 104.10V107.00" stroke="#333" stroke-width="0.75"/>
<path d="M279.75 107.20L281.85 110.48M279.75 110.48L281.85 107.20" stroke="#d4304a" stroke-width="0.85" stroke-opacity="0.8" fill="none"/>
<path d="M286.10 107.20L289.10 110.48M286.10 110.48L289.10 107.20" stroke="#d4304a" stroke-width="0.85" stroke-opacity="0.8" fill="none"/>
<circle cx="294.00" cy="108.84" r="1.35" fill="#000"/>
<path d="M360.00 108.84H362.42" stroke="#000" stroke-width="0.9"/>
<path d="M364.50 108.84L361.90 107.59L361.90 110.09Z" fill="#000"/>
<path d="M279.75 110.49L281.85 113.77M279.75 113.77L281.85 110.49" stroke="#d4304a" stroke-width="0.85" stroke-opacity="0.8" fill="none"/>
<path d="M286.10 110.49L289.10 113.77M286.10 113.77L289.10 110.49" stroke="#d4304a" stroke-width="0.85" stroke-opacity="0.8" fill="none"/>
<path d="M338.70 110.83L341.30 113.43M338.70 113.43L341.30 110.83" stroke="#a02030" stroke-width="0.8" stroke-opacity="0.7" fill="none"/>
<path d="M346.70 110.83L349.30 113.43M346.70 113.43L349.30 110.83" stroke="#a02030" stroke-width="0.8" stroke-opacity="0.7" fill="none"/>
<path d="M352.70 110.83L355.30 113.43M352.70 113.43L355.30 110.83" stroke="#a02030" stroke-width="0.8" stroke-opacity="0.7" fill="none"/>
<path d="M298.70 110.83L301.30 113.43M298.70 113.43L301.30 110.83" stroke="#12386a" stroke-width="0.8" stroke-opacity="0.65" fill="none"/>
<path d="M308.70 110.83L311.30 113.43M308.70 113.43L311.30 110.83" stroke="#12386a" stroke-width="0.8" stroke-opacity="0.65" fill="none"/>
<path d="M318.70 110.83L321.30 113.43M318.70 113.43L321.30 110.83" stroke="#12386a" stroke-width="0.8" stroke-opacity="0.65" fill="none"/>
<circle cx="331.00" cy="112.13" r="1.35" fill="#000"/>
<path d="M360.00 112.13H362.42" stroke="#000" stroke-width="0.9"/>
<path d="M364.50 112.13L361.90 110.88L361.90 113.38Z" fill="#000"/>
<path d="M279.75 113.78L281.85 117.06M279.75 117.06L281.85 113.78" stroke="#d4304a" stroke-width="0.85" stroke-opacity="0.8" fill="none"/>
<path d="M286.10 113.78L289.10 117.06M286.10 117.06L289.10 113.78" stroke="#d4304a" stroke-width="0.85" stroke-opacity="0.8" fill="none"/>
<circle cx="294.00" cy="115.42" r="1.35" fill="#000"/>
<path d="M329.00 113.97V116.87" stroke="#333" stroke-width="0.75"/>
<path d="M279.75 117.07L281.85 120.35M279.75 120.35L281.85 117.07" stroke="#d4304a" stroke-width="0.85" stroke-opacity="0.8" fill="none"/>
<path d="M286.10 117.07L289.10 120.35M286.10 120.35L289.10 117.07" stroke="#d4304a" stroke-width="0.85" stroke-opacity="0.8" fill="none"/>
<circle cx="289.00" cy="118.71" r="1.35" fill="#000"/>
<path d="M323.00 117.26V120.16" stroke="#333" stroke-width="0.75"/>
<path d="M279.75 120.36L281.85 123.64M279.75 123.64L281.85 120.36" stroke="#d4304a" stroke-width="0.85" stroke-opacity="0.8" fill="none"/>
<path d="M286.10 120.36L289.10 123.64M286.10 123.64L289.10 120.36" stroke="#d4304a" stroke-width="0.85" stroke-opacity="0.8" fill="none"/>
<circle cx="297.00" cy="122.00" r="1.35" fill="#000"/>
<path d="M322.00 120.55V123.45" stroke="#333" stroke-width="0.75"/>
<path d="M279.75 123.65L281.85 126.93M279.75 126.93L281.85 123.65" stroke="#d4304a" stroke-width="0.85" stroke-opacity="0.8" fill="none"/>
<path d="M286.10 123.65L289.10 126.93M286.10 126.93L289.10 123.65" stroke="#d4304a" stroke-width="0.85" stroke-opacity="0.8" fill="none"/>
<circle cx="295.00" cy="125.29" r="1.35" fill="#000"/>
<path d="M323.00 125.29H325.42" stroke="#000" stroke-width="0.9"/>
<path d="M327.50 125.29L324.90 124.04L324.90 126.54Z" fill="#000"/>
<path d="M279.75 126.94L281.85 130.22M279.75 130.22L281.85 126.94" stroke="#d4304a" stroke-width="0.85" stroke-opacity="0.8" fill="none"/>
<path d="M286.10 126.94L289.10 130.22M286.10 130.22L289.10 126.94" stroke="#d4304a" stroke-width="0.85" stroke-opacity="0.8" fill="none"/>
<circle cx="295.00" cy="128.58" r="1.35" fill="#000"/>
<path d="M317.00 127.13V130.03" stroke="#333" stroke-width="0.75"/>
<path d="M279.75 130.23L281.85 133.51M279.75 133.51L281.85 130.23" stroke="#d4304a" stroke-width="0.85" stroke-opacity="0.8" fill="none"/>
<path d="M286.10 130.23L289.10 133.51M286.10 133.51L289.10 130.23" stroke="#d4304a" stroke-width="0.85" stroke-opacity="0.8" fill="none"/>
<circle cx="292.00" cy="131.87" r="1.35" fill="#000"/>
<path d="M315.00 130.42V133.32" stroke="#333" stroke-width="0.75"/>
<path d="M279.75 133.52L281.85 136.80M279.75 136.80L281.85 133.52" stroke="#d4304a" stroke-width="0.85" stroke-opacity="0.8" fill="none"/>
<path d="M286.10 133.52L289.10 136.80M286.10 136.80L289.10 133.52" stroke="#d4304a" stroke-width="0.85" stroke-opacity="0.8" fill="none"/>
<path d="M279.75 136.81L281.85 140.09M279.75 140.09L281.85 136.81" stroke="#d4304a" stroke-width="0.85" stroke-opacity="0.8" fill="none"/>
<path d="M286.10 136.81L289.10 140.09M286.10 140.09L289.10 136.81" stroke="#d4304a" stroke-width="0.85" stroke-opacity="0.8" fill="none"/>
<circle cx="294.00" cy="138.45" r="1.35" fill="#000"/>
<path d="M319.00 138.45H321.42" stroke="#000" stroke-width="0.9"/>
<path d="M323.50 138.45L320.90 137.21L320.90 139.70Z" fill="#000"/>
<path d="M279.75 140.10L281.85 143.38M279.75 143.38L281.85 140.10" stroke="#d4304a" stroke-width="0.85" stroke-opacity="0.8" fill="none"/>
<path d="M286.10 140.10L289.10 143.38M286.10 143.38L289.10 140.10" stroke="#d4304a" stroke-width="0.85" stroke-opacity="0.8" fill="none"/>
<path d="M281.70 140.44L284.30 143.04M281.70 143.04L284.30 140.44" stroke="#a02030" stroke-width="0.8" stroke-opacity="0.7" fill="none"/>
<circle cx="299.00" cy="141.74" r="1.35" fill="#000"/>
<path d="M312.00 140.29V143.19" stroke="#333" stroke-width="0.75"/>
<path d="M279.75 143.39L281.85 146.67M279.75 146.67L281.85 143.39" stroke="#d4304a" stroke-width="0.85" stroke-opacity="0.8" fill="none"/>
<path d="M286.10 143.39L289.10 146.67M286.10 146.67L289.10 143.39" stroke="#d4304a" stroke-width="0.85" stroke-opacity="0.8" fill="none"/>
<circle cx="293.00" cy="145.03" r="1.35" fill="#000"/>
<path d="M307.00 143.58V146.48" stroke="#333" stroke-width="0.75"/>
<path d="M279.75 146.68L281.85 149.96M279.75 149.96L281.85 146.68" stroke="#d4304a" stroke-width="0.85" stroke-opacity="0.8" fill="none"/>
<path d="M286.10 146.68L289.10 149.96M286.10 149.96L289.10 146.68" stroke="#d4304a" stroke-width="0.85" stroke-opacity="0.8" fill="none"/>
<circle cx="303.00" cy="148.32" r="1.35" fill="#000"/>
<path d="M305.00 146.87V149.77" stroke="#333" stroke-width="0.75"/>
<path d="M279.75 149.97L281.85 153.25M279.75 153.25L281.85 149.97" stroke="#d4304a" stroke-width="0.85" stroke-opacity="0.8" fill="none"/>
<path d="M286.10 149.97L289.10 153.25M286.10 153.25L289.10 149.97" stroke="#d4304a" stroke-width="0.85" stroke-opacity="0.8" fill="none"/>
<circle cx="299.00" cy="151.61" r="1.35" fill="#000"/>
<path d="M279.75 153.26L281.85 156.54M279.75 156.54L281.85 153.26" stroke="#d4304a" stroke-width="0.85" stroke-opacity="0.8" fill="none"/>
<path d="M286.10 153.26L289.10 156.54M286.10 156.54L289.10 153.26" stroke="#d4304a" stroke-width="0.85" stroke-opacity="0.8" fill="none"/>
<circle cx="289.00" cy="154.90" r="1.35" fill="#000"/>
<path d="M303.00 153.45V156.35" stroke="#333" stroke-width="0.75"/>
<path d="M279.75 156.56L281.85 159.84M279.75 159.84L281.85 156.56" stroke="#d4304a" stroke-width="0.85" stroke-opacity="0.8" fill="none"/>
<path d="M286.10 156.56L289.10 159.84M286.10 159.84L289.10 156.56" stroke="#d4304a" stroke-width="0.85" stroke-opacity="0.8" fill="none"/>
<circle cx="288.00" cy="158.20" r="1.35" fill="#000"/>
<path d="M279.75 159.85L281.85 163.13M279.75 163.13L281.85 159.85" stroke="#d4304a" stroke-width="0.85" stroke-opacity="0.8" fill="none"/>
<path d="M286.10 159.85L289.10 163.13M286.10 163.13L289.10 159.85" stroke="#d4304a" stroke-width="0.85" stroke-opacity="0.8" fill="none"/>
<circle cx="288.00" cy="161.49" r="1.35" fill="#000"/>
<path d="M279.75 163.14L281.85 166.42M279.75 166.42L281.85 163.14" stroke="#d4304a" stroke-width="0.85" stroke-opacity="0.8" fill="none"/>
<path d="M286.10 163.14L289.10 166.42M286.10 166.42L289.10 163.14" stroke="#d4304a" stroke-width="0.85" stroke-opacity="0.8" fill="none"/>
<circle cx="293.00" cy="164.78" r="1.35" fill="#000"/>
<path d="M279.75 166.43L281.85 169.71M279.75 169.71L281.85 166.43" stroke="#d4304a" stroke-width="0.85" stroke-opacity="0.8" fill="none"/>
<path d="M286.10 166.43L289.10 169.71M286.10 169.71L289.10 166.43" stroke="#d4304a" stroke-width="0.85" stroke-opacity="0.8" fill="none"/>
<circle cx="292.00" cy="168.07" r="1.35" fill="#000"/>
<path d="M300.00 166.62V169.52" stroke="#333" stroke-width="0.75"/>
<path d="M279.75 169.72L281.85 173.00M279.75 173.00L281.85 169.72" stroke="#d4304a" stroke-width="0.85" stroke-opacity="0.8" fill="none"/>
<path d="M286.10 169.72L289.10 173.00M286.10 173.00L289.10 169.72" stroke="#d4304a" stroke-width="0.85" stroke-opacity="0.8" fill="none"/>
<circle cx="289.00" cy="171.36" r="1.35" fill="#000"/>
<path d="M298.00 169.91V172.81" stroke="#333" stroke-width="0.75"/>
<path d="M279.75 173.01L281.85 176.29M279.75 176.29L281.85 173.01" stroke="#d4304a" stroke-width="0.85" stroke-opacity="0.8" fill="none"/>
<path d="M286.10 173.01L289.10 176.29M286.10 176.29L289.10 173.01" stroke="#d4304a" stroke-width="0.85" stroke-opacity="0.8" fill="none"/>
<circle cx="288.00" cy="174.65" r="1.35" fill="#000"/>
<path d="M279.75 176.30L281.85 179.58M279.75 179.58L281.85 176.30" stroke="#d4304a" stroke-width="0.85" stroke-opacity="0.8" fill="none"/>
<path d="M286.10 176.30L289.10 179.58M286.10 179.58L289.10 176.30" stroke="#d4304a" stroke-width="0.85" stroke-opacity="0.8" fill="none"/>
<circle cx="288.00" cy="177.94" r="1.35" fill="#000"/>
<path d="M279.75 179.59L281.85 182.87M279.75 182.87L281.85 179.59" stroke="#d4304a" stroke-width="0.85" stroke-opacity="0.8" fill="none"/>
<path d="M286.10 179.59L289.10 182.87M286.10 182.87L289.10 179.59" stroke="#d4304a" stroke-width="0.85" stroke-opacity="0.8" fill="none"/>
<circle cx="288.00" cy="181.23" r="1.35" fill="#000"/>
<path d="M279.75 182.88L281.85 186.16M279.75 186.16L281.85 182.88" stroke="#d4304a" stroke-width="0.85" stroke-opacity="0.8" fill="none"/>
<path d="M286.10 182.88L289.10 186.16M286.10 186.16L289.10 182.88" stroke="#6f8fc0" stroke-width="0.85" stroke-opacity="0.8" fill="none"/>
<path d="M328.70 183.22L331.30 185.82M328.70 185.82L331.30 183.22" stroke="#12386a" stroke-width="0.8" stroke-opacity="0.65" fill="none"/>
<path d="M338.70 183.22L341.30 185.82M338.70 185.82L341.30 183.22" stroke="#12386a" stroke-width="0.8" stroke-opacity="0.65" fill="none"/>
<path d="M343.70 183.22L346.30 185.82M343.70 185.82L346.30 183.22" stroke="#12386a" stroke-width="0.8" stroke-opacity="0.65" fill="none"/>
<path d="M378.70 183.22L381.30 185.82M378.70 185.82L381.30 183.22" stroke="#12386a" stroke-width="0.8" stroke-opacity="0.65" fill="none"/>
<path d="M393.70 183.22L396.30 185.82M393.70 185.82L396.30 183.22" stroke="#12386a" stroke-width="0.8" stroke-opacity="0.65" fill="none"/>
<path d="M427.00 184.52H429.42" stroke="#000" stroke-width="0.9"/>
<path d="M431.50 184.52L428.90 183.27L428.90 185.77Z" fill="#000"/>
<path d="M279.75 186.17L281.85 189.45M279.75 189.45L281.85 186.17" stroke="#d4304a" stroke-width="0.85" stroke-opacity="0.8" fill="none"/>
<path d="M286.10 186.17L289.10 189.45M286.10 189.45L289.10 186.17" stroke="#6f8fc0" stroke-width="0.85" stroke-opacity="0.8" fill="none"/>
<path d="M338.70 186.51L341.30 189.11M338.70 189.11L341.30 186.51" stroke="#12386a" stroke-width="0.8" stroke-opacity="0.65" fill="none"/>
<path d="M358.70 186.51L361.30 189.11M358.70 189.11L361.30 186.51" stroke="#12386a" stroke-width="0.8" stroke-opacity="0.65" fill="none"/>
<path d="M378.70 186.51L381.30 189.11M378.70 189.11L381.30 186.51" stroke="#12386a" stroke-width="0.8" stroke-opacity="0.65" fill="none"/>
<path d="M398.70 186.51L401.30 189.11M398.70 189.11L401.30 186.51" stroke="#12386a" stroke-width="0.8" stroke-opacity="0.65" fill="none"/>
<path d="M408.70 186.51L411.30 189.11M408.70 189.11L411.30 186.51" stroke="#12386a" stroke-width="0.8" stroke-opacity="0.65" fill="none"/>
<path d="M424.00 187.81H426.42" stroke="#000" stroke-width="0.9"/>
<path d="M428.50 187.81L425.90 186.56L425.90 189.06Z" fill="#000"/>
<path d="M279.75 189.46L281.85 192.74M279.75 192.74L281.85 189.46" stroke="#d4304a" stroke-width="0.85" stroke-opacity="0.8" fill="none"/>
<path d="M286.10 189.46L289.10 192.74M286.10 192.74L289.10 189.46" stroke="#6f8fc0" stroke-width="0.85" stroke-opacity="0.8" fill="none"/>
<path d="M309.70 189.80L312.30 192.40M309.70 192.40L312.30 189.80" stroke="#a02030" stroke-width="0.8" stroke-opacity="0.7" fill="none"/>
<path d="M420.00 191.10H422.42" stroke="#000" stroke-width="0.9"/>
<path d="M424.50 191.10L421.90 189.85L421.90 192.35Z" fill="#000"/>
<path d="M279.75 192.75L281.85 196.03M279.75 196.03L281.85 192.75" stroke="#d4304a" stroke-width="0.85" stroke-opacity="0.8" fill="none"/>
<path d="M286.10 192.75L289.10 196.03M286.10 196.03L289.10 192.75" stroke="#6f8fc0" stroke-width="0.85" stroke-opacity="0.8" fill="none"/>
<path d="M318.70 193.09L321.30 195.69M318.70 195.69L321.30 193.09" stroke="#12386a" stroke-width="0.8" stroke-opacity="0.65" fill="none"/>
<path d="M348.70 193.09L351.30 195.69M348.70 195.69L351.30 193.09" stroke="#12386a" stroke-width="0.8" stroke-opacity="0.65" fill="none"/>
<path d="M373.70 193.09L376.30 195.69M373.70 195.69L376.30 193.09" stroke="#12386a" stroke-width="0.8" stroke-opacity="0.65" fill="none"/>
<path d="M420.00 194.39H422.42" stroke="#000" stroke-width="0.9"/>
<path d="M424.50 194.39L421.90 193.14L421.90 195.64Z" fill="#000"/>
<path d="M279.75 196.04L281.85 199.32M279.75 199.32L281.85 196.04" stroke="#d4304a" stroke-width="0.85" stroke-opacity="0.8" fill="none"/>
<path d="M286.10 196.04L289.10 199.32M286.10 199.32L289.10 196.04" stroke="#6f8fc0" stroke-width="0.85" stroke-opacity="0.8" fill="none"/>
<path d="M354.70 196.38L357.30 198.98M354.70 198.98L357.30 196.38" stroke="#a02030" stroke-width="0.8" stroke-opacity="0.7" fill="none"/>
<path d="M420.00 197.68H422.42" stroke="#000" stroke-width="0.9"/>
<path d="M424.50 197.68L421.90 196.43L421.90 198.93Z" fill="#000"/>
<path d="M279.75 199.33L281.85 202.61M279.75 202.61L281.85 199.33" stroke="#d4304a" stroke-width="0.85" stroke-opacity="0.8" fill="none"/>
<path d="M286.10 199.33L289.10 202.61M286.10 202.61L289.10 199.33" stroke="#6f8fc0" stroke-width="0.85" stroke-opacity="0.8" fill="none"/>
<path d="M328.70 199.67L331.30 202.27M328.70 202.27L331.30 199.67" stroke="#12386a" stroke-width="0.8" stroke-opacity="0.65" fill="none"/>
<path d="M343.70 199.67L346.30 202.27M343.70 202.27L346.30 199.67" stroke="#12386a" stroke-width="0.8" stroke-opacity="0.65" fill="none"/>
<path d="M367.00 200.97H369.42" stroke="#000" stroke-width="0.9"/>
<path d="M371.50 200.97L368.90 199.72L368.90 202.22Z" fill="#000"/>
<path d="M279.75 202.62L281.85 205.90M279.75 205.90L281.85 202.62" stroke="#d4304a" stroke-width="0.85" stroke-opacity="0.8" fill="none"/>
<path d="M286.10 202.62L289.10 205.90M286.10 205.90L289.10 202.62" stroke="#6f8fc0" stroke-width="0.85" stroke-opacity="0.8" fill="none"/>
<path d="M337.70 202.96L340.30 205.56M337.70 205.56L340.30 202.96" stroke="#12386a" stroke-width="0.8" stroke-opacity="0.65" fill="none"/>
<path d="M345.70 202.96L348.30 205.56M345.70 205.56L348.30 202.96" stroke="#12386a" stroke-width="0.8" stroke-opacity="0.65" fill="none"/>
<path d="M352.00 204.26H354.42" stroke="#000" stroke-width="0.9"/>
<path d="M356.50 204.26L353.90 203.01L353.90 205.51Z" fill="#000"/>
<path d="M279.75 205.91L281.85 209.19M279.75 209.19L281.85 205.91" stroke="#d4304a" stroke-width="0.85" stroke-opacity="0.8" fill="none"/>
<path d="M286.10 205.91L289.10 209.19M286.10 209.19L289.10 205.91" stroke="#6f8fc0" stroke-width="0.85" stroke-opacity="0.8" fill="none"/>
<path d="M324.00 207.55H326.42" stroke="#000" stroke-width="0.9"/>
<path d="M328.50 207.55L325.90 206.30L325.90 208.80Z" fill="#000"/>
<path d="M279.75 209.20L281.85 212.48M279.75 212.48L281.85 209.20" stroke="#d4304a" stroke-width="0.85" stroke-opacity="0.8" fill="none"/>
<path d="M286.10 209.20L289.10 212.48M286.10 212.48L289.10 209.20" stroke="#6f8fc0" stroke-width="0.85" stroke-opacity="0.8" fill="none"/>
<path d="M298.70 209.54L301.30 212.14M298.70 212.14L301.30 209.54" stroke="#a02030" stroke-width="0.8" stroke-opacity="0.7" fill="none"/>
<path d="M303.70 209.54L306.30 212.14M303.70 212.14L306.30 209.54" stroke="#a02030" stroke-width="0.8" stroke-opacity="0.7" fill="none"/>
<path d="M310.70 209.54L313.30 212.14M310.70 212.14L313.30 209.54" stroke="#a02030" stroke-width="0.8" stroke-opacity="0.7" fill="none"/>
<path d="M325.00 210.84H327.42" stroke="#000" stroke-width="0.9"/>
<path d="M329.50 210.84L326.90 209.59L326.90 212.09Z" fill="#000"/>
<path d="M279.75 212.49L281.85 215.77M279.75 215.77L281.85 212.49" stroke="#d4304a" stroke-width="0.85" stroke-opacity="0.8" fill="none"/>
<path d="M286.10 212.49L289.10 215.77M286.10 215.77L289.10 212.49" stroke="#6f8fc0" stroke-width="0.85" stroke-opacity="0.8" fill="none"/>
<path d="M296.00 214.13H298.42" stroke="#000" stroke-width="0.9"/>
<path d="M300.50 214.13L297.90 212.88L297.90 215.38Z" fill="#000"/>
<path d="M279.75 215.78L281.85 219.06M279.75 219.06L281.85 215.78" stroke="#d4304a" stroke-width="0.85" stroke-opacity="0.8" fill="none"/>
<path d="M286.10 215.78L289.10 219.06M286.10 219.06L289.10 215.78" stroke="#6f8fc0" stroke-width="0.85" stroke-opacity="0.8" fill="none"/>
<path d="M318.70 216.12L321.30 218.72M318.70 218.72L321.30 216.12" stroke="#12386a" stroke-width="0.8" stroke-opacity="0.65" fill="none"/>
<path d="M338.70 216.12L341.30 218.72M338.70 218.72L341.30 216.12" stroke="#12386a" stroke-width="0.8" stroke-opacity="0.65" fill="none"/>
<path d="M353.70 216.12L356.30 218.72M353.70 218.72L356.30 216.12" stroke="#12386a" stroke-width="0.8" stroke-opacity="0.65" fill="none"/>
<path d="M381.00 215.97V218.87" stroke="#333" stroke-width="0.75"/>
<path d="M279.75 219.07L281.85 222.35M279.75 222.35L281.85 219.07" stroke="#d4304a" stroke-width="0.85" stroke-opacity="0.8" fill="none"/>
<path d="M286.10 219.07L289.10 222.35M286.10 222.35L289.10 219.07" stroke="#6f8fc0" stroke-width="0.85" stroke-opacity="0.8" fill="none"/>
<path d="M328.70 219.41L331.30 222.01M328.70 222.01L331.30 219.41" stroke="#12386a" stroke-width="0.8" stroke-opacity="0.65" fill="none"/>
<path d="M343.70 219.41L346.30 222.01M343.70 222.01L346.30 219.41" stroke="#12386a" stroke-width="0.8" stroke-opacity="0.65" fill="none"/>
<path d="M279.75 222.36L281.85 225.64M279.75 225.64L281.85 222.36" stroke="#d4304a" stroke-width="0.85" stroke-opacity="0.8" fill="none"/>
<path d="M286.10 222.36L289.10 225.64M286.10 225.64L289.10 222.36" stroke="#6f8fc0" stroke-width="0.85" stroke-opacity="0.8" fill="none"/>
<path d="M345.00 222.55V225.45" stroke="#333" stroke-width="0.75"/>
<path d="M279.75 225.65L281.85 228.93M279.75 228.93L281.85 225.65" stroke="#d4304a" stroke-width="0.85" stroke-opacity="0.8" fill="none"/>
<path d="M286.10 225.65L289.10 228.93M286.10 228.93L289.10 225.65" stroke="#6f8fc0" stroke-width="0.85" stroke-opacity="0.8" fill="none"/>
<path d="M318.70 225.99L321.30 228.59M318.70 228.59L321.30 225.99" stroke="#12386a" stroke-width="0.8" stroke-opacity="0.65" fill="none"/>
<path d="M328.70 225.99L331.30 228.59M328.70 228.59L331.30 225.99" stroke="#12386a" stroke-width="0.8" stroke-opacity="0.65" fill="none"/>
<path d="M341.00 225.84V228.74" stroke="#333" stroke-width="0.75"/>
<path d="M279.75 228.94L281.85 232.22M279.75 232.22L281.85 228.94" stroke="#d4304a" stroke-width="0.85" stroke-opacity="0.8" fill="none"/>
<path d="M286.10 228.94L289.10 232.22M286.10 232.22L289.10 228.94" stroke="#6f8fc0" stroke-width="0.85" stroke-opacity="0.8" fill="none"/>
<path d="M340.00 229.13V232.03" stroke="#333" stroke-width="0.75"/>
<path d="M279.75 232.23L281.85 235.51M279.75 235.51L281.85 232.23" stroke="#d4304a" stroke-width="0.85" stroke-opacity="0.8" fill="none"/>
<path d="M286.10 232.23L289.10 235.51M286.10 235.51L289.10 232.23" stroke="#6f8fc0" stroke-width="0.85" stroke-opacity="0.8" fill="none"/>
<path d="M336.00 232.42V235.32" stroke="#333" stroke-width="0.75"/>
<path d="M279.75 235.52L281.85 238.80M279.75 238.80L281.85 235.52" stroke="#d4304a" stroke-width="0.85" stroke-opacity="0.8" fill="none"/>
<path d="M286.10 235.52L289.10 238.80M286.10 238.80L289.10 235.52" stroke="#6f8fc0" stroke-width="0.85" stroke-opacity="0.8" fill="none"/>
<path d="M293.70 235.86L296.30 238.46M293.70 238.46L296.30 235.86" stroke="#12386a" stroke-width="0.8" stroke-opacity="0.65" fill="none"/>
<path d="M303.70 235.86L306.30 238.46M303.70 238.46L306.30 235.86" stroke="#12386a" stroke-width="0.8" stroke-opacity="0.65" fill="none"/>
<path d="M314.00 235.71V238.61" stroke="#333" stroke-width="0.75"/>
<path d="M279.75 238.81L281.85 242.09M279.75 242.09L281.85 238.81" stroke="#d4304a" stroke-width="0.85" stroke-opacity="0.8" fill="none"/>
<path d="M286.10 238.81L289.10 242.09M286.10 242.09L289.10 238.81" stroke="#6f8fc0" stroke-width="0.85" stroke-opacity="0.8" fill="none"/>
<path d="M279.75 242.10L281.85 245.38M279.75 245.38L281.85 242.10" stroke="#d4304a" stroke-width="0.85" stroke-opacity="0.8" fill="none"/>
<path d="M286.10 242.10L289.10 245.38M286.10 245.38L289.10 242.10" stroke="#6f8fc0" stroke-width="0.85" stroke-opacity="0.8" fill="none"/>
<path d="M300.00 242.29V245.19" stroke="#333" stroke-width="0.75"/>
<path d="M279.75 245.39L281.85 248.67M279.75 248.67L281.85 245.39" stroke="#d4304a" stroke-width="0.85" stroke-opacity="0.8" fill="none"/>
<path d="M286.10 245.39L289.10 248.67M286.10 248.67L289.10 245.39" stroke="#6f8fc0" stroke-width="0.85" stroke-opacity="0.8" fill="none"/>
<path d="M279.75 248.69L281.85 251.97M279.75 251.97L281.85 248.69" stroke="#d4304a" stroke-width="0.85" stroke-opacity="0.8" fill="none"/>
<path d="M286.10 248.69L289.10 251.97M286.10 251.97L289.10 248.69" stroke="#6f8fc0" stroke-width="0.85" stroke-opacity="0.8" fill="none"/>
<path d="M408.70 249.03L411.30 251.63M408.70 251.63L411.30 249.03" stroke="#a02030" stroke-width="0.8" stroke-opacity="0.7" fill="none"/>
<path d="M415.70 249.03L418.30 251.63M415.70 251.63L418.30 249.03" stroke="#a02030" stroke-width="0.8" stroke-opacity="0.7" fill="none"/>
<circle cx="386.00" cy="250.33" r="1.35" fill="#000"/>
<path d="M432.00 250.33H434.42" stroke="#000" stroke-width="0.9"/>
<path d="M436.50 250.33L433.90 249.08L433.90 251.57Z" fill="#000"/>
<path d="M279.75 251.98L281.85 255.26M279.75 255.26L281.85 251.98" stroke="#d4304a" stroke-width="0.85" stroke-opacity="0.8" fill="none"/>
<path d="M286.10 251.98L289.10 255.26M286.10 255.26L289.10 251.98" stroke="#6f8fc0" stroke-width="0.85" stroke-opacity="0.8" fill="none"/>
<path d="M406.70 252.32L409.30 254.92M406.70 254.92L409.30 252.32" stroke="#a02030" stroke-width="0.8" stroke-opacity="0.7" fill="none"/>
<circle cx="389.00" cy="253.62" r="1.35" fill="#000"/>
<path d="M420.00 253.62H422.42" stroke="#000" stroke-width="0.9"/>
<path d="M424.50 253.62L421.90 252.37L421.90 254.86Z" fill="#000"/>
<path d="M279.75 255.27L281.85 258.55M279.75 258.55L281.85 255.27" stroke="#d4304a" stroke-width="0.85" stroke-opacity="0.8" fill="none"/>
<path d="M286.10 255.27L289.10 258.55M286.10 258.55L289.10 255.27" stroke="#6f8fc0" stroke-width="0.85" stroke-opacity="0.8" fill="none"/>
<path d="M386.70 255.61L389.30 258.21M386.70 258.21L389.30 255.61" stroke="#a02030" stroke-width="0.8" stroke-opacity="0.7" fill="none"/>
<path d="M391.70 255.61L394.30 258.21M391.70 258.21L394.30 255.61" stroke="#a02030" stroke-width="0.8" stroke-opacity="0.7" fill="none"/>
<circle cx="300.00" cy="256.91" r="1.35" fill="#000"/>
<path d="M279.75 258.56L281.85 261.84M279.75 261.84L281.85 258.56" stroke="#d4304a" stroke-width="0.85" stroke-opacity="0.8" fill="none"/>
<path d="M286.10 258.56L289.10 261.84M286.10 261.84L289.10 258.56" stroke="#6f8fc0" stroke-width="0.85" stroke-opacity="0.8" fill="none"/>
<circle cx="372.00" cy="260.20" r="1.35" fill="#000"/>
<path d="M378.00 258.75V261.65" stroke="#333" stroke-width="0.75"/>
<path d="M279.75 261.85L281.85 265.13M279.75 265.13L281.85 261.85" stroke="#d4304a" stroke-width="0.85" stroke-opacity="0.8" fill="none"/>
<path d="M286.10 261.85L289.10 265.13M286.10 265.13L289.10 261.85" stroke="#6f8fc0" stroke-width="0.85" stroke-opacity="0.8" fill="none"/>
<circle cx="313.00" cy="263.49" r="1.35" fill="#000"/>
<path d="M373.00 263.49H375.42" stroke="#000" stroke-width="0.9"/>
<path d="M377.50 263.49L374.90 262.24L374.90 264.73Z" fill="#000"/>
<path d="M279.75 265.14L281.85 268.42M279.75 268.42L281.85 265.14" stroke="#d4304a" stroke-width="0.85" stroke-opacity="0.8" fill="none"/>
<path d="M286.10 265.14L289.10 268.42M286.10 268.42L289.10 265.14" stroke="#6f8fc0" stroke-width="0.85" stroke-opacity="0.8" fill="none"/>
<circle cx="300.00" cy="266.78" r="1.35" fill="#000"/>
<path d="M336.00 265.33V268.23" stroke="#333" stroke-width="0.75"/>
<path d="M279.75 268.43L281.85 271.71M279.75 271.71L281.85 268.43" stroke="#d4304a" stroke-width="0.85" stroke-opacity="0.8" fill="none"/>
<path d="M286.10 268.43L289.10 271.71M286.10 271.71L289.10 268.43" stroke="#6f8fc0" stroke-width="0.85" stroke-opacity="0.8" fill="none"/>
<circle cx="294.00" cy="270.07" r="1.35" fill="#000"/>
<path d="M304.00 268.62V271.52" stroke="#333" stroke-width="0.75"/>
<path d="M279.75 271.72L281.85 275.00M279.75 275.00L281.85 271.72" stroke="#d4304a" stroke-width="0.85" stroke-opacity="0.8" fill="none"/>
<path d="M286.10 271.72L289.10 275.00M286.10 275.00L289.10 271.72" stroke="#6f8fc0" stroke-width="0.85" stroke-opacity="0.8" fill="none"/>
<path d="M322.70 272.06L325.30 274.66M322.70 274.66L325.30 272.06" stroke="#a02030" stroke-width="0.8" stroke-opacity="0.7" fill="none"/>
<path d="M334.70 272.06L337.30 274.66M334.70 274.66L337.30 272.06" stroke="#a02030" stroke-width="0.8" stroke-opacity="0.7" fill="none"/>
<path d="M425.00 273.36H427.42" stroke="#000" stroke-width="0.9"/>
<path d="M429.50 273.36L426.90 272.11L426.90 274.61Z" fill="#000"/>
<path d="M279.75 275.01L281.85 278.29M279.75 278.29L281.85 275.01" stroke="#d4304a" stroke-width="0.85" stroke-opacity="0.8" fill="none"/>
<path d="M286.10 275.01L289.10 278.29M286.10 278.29L289.10 275.01" stroke="#6f8fc0" stroke-width="0.85" stroke-opacity="0.8" fill="none"/>
<path d="M399.70 275.35L402.30 277.95M399.70 277.95L402.30 275.35" stroke="#12386a" stroke-width="0.8" stroke-opacity="0.65" fill="none"/>
<path d="M407.00 276.65H409.42" stroke="#000" stroke-width="0.9"/>
<path d="M411.50 276.65L408.90 275.40L408.90 277.90Z" fill="#000"/>
<path d="M279.75 278.30L281.85 281.58M279.75 281.58L281.85 278.30" stroke="#d4304a" stroke-width="0.85" stroke-opacity="0.8" fill="none"/>
<path d="M300.00 279.94H302.42" stroke="#000" stroke-width="0.9"/>
<path d="M304.50 279.94L301.90 278.69L301.90 281.19Z" fill="#000"/>
<path d="M279.75 281.59L281.85 284.87M279.75 284.87L281.85 281.59" stroke="#d4304a" stroke-width="0.85" stroke-opacity="0.8" fill="none"/>
<path d="M349.70 281.93L352.30 284.53M349.70 284.53L352.30 281.93" stroke="#a02030" stroke-width="0.8" stroke-opacity="0.7" fill="none"/>
<path d="M393.00 281.78V284.68" stroke="#333" stroke-width="0.75"/>
<path d="M279.75 284.88L281.85 288.16M279.75 288.16L281.85 284.88" stroke="#d4304a" stroke-width="0.85" stroke-opacity="0.8" fill="none"/>
<circle cx="413.00" cy="286.52" r="1.35" fill="#000"/>
<path d="M279.75 288.17L281.85 291.45M279.75 291.45L281.85 288.17" stroke="#d4304a" stroke-width="0.85" stroke-opacity="0.8" fill="none"/>
<circle cx="294.00" cy="289.81" r="1.35" fill="#000"/>
<path d="M307.00 288.36V291.26" stroke="#333" stroke-width="0.75"/>
<path d="M279.75 291.46L281.85 294.74M279.75 294.74L281.85 291.46" stroke="#d4304a" stroke-width="0.85" stroke-opacity="0.8" fill="none"/>
<path d="M282.70 291.80L285.30 294.40M282.70 294.40L285.30 291.80" stroke="#a02030" stroke-width="0.8" stroke-opacity="0.7" fill="none"/>
<path d="M16.5 17.5V295.6H188.8" stroke="#111" stroke-width="0.8" fill="none"/>
<path d="M13.3 20.20H16.5" stroke="#111" stroke-width="0.75"/>
<path d="M13.3 24.52H16.5" stroke="#111" stroke-width="0.75"/>
<path d="M13.3 28.85H16.5" stroke="#111" stroke-width="0.75"/>
<path d="M13.3 33.17H16.5" stroke="#111" stroke-width="0.75"/>
<path d="M13.3 37.50H16.5" stroke="#111" stroke-width="0.75"/>
<path d="M13.3 41.83H16.5" stroke="#111" stroke-width="0.75"/>
<path d="M13.3 46.15H16.5" stroke="#111" stroke-width="0.75"/>
<path d="M13.3 50.48H16.5" stroke="#111" stroke-width="0.75"/>
<path d="M13.3 54.80H16.5" stroke="#111" stroke-width="0.75"/>
<path d="M13.3 59.12H16.5" stroke="#111" stroke-width="0.75"/>
<path d="M13.3 63.45H16.5" stroke="#111" stroke-width="0.75"/>
<path d="M13.3 67.78H16.5" stroke="#111" stroke-width="0.75"/>
<path d="M13.3 72.10H16.5" stroke="#111" stroke-width="0.75"/>
<path d="M13.3 76.42H16.5" stroke="#111" stroke-width="0.75"/>
<path d="M13.3 80.75H16.5" stroke="#111" stroke-width="0.75"/>
<path d="M13.3 85.08H16.5" stroke="#111" stroke-width="0.75"/>
<path d="M13.3 89.40H16.5" stroke="#111" stroke-width="0.75"/>
<path d="M13.3 93.73H16.5" stroke="#111" stroke-width="0.75"/>
<path d="M13.3 98.05H16.5" stroke="#111" stroke-width="0.75"/>
<path d="M13.3 102.38H16.5" stroke="#111" stroke-width="0.75"/>
<path d="M13.3 106.70H16.5" stroke="#111" stroke-width="0.75"/>
<path d="M13.3 111.03H16.5" stroke="#111" stroke-width="0.75"/>
<path d="M13.3 115.35H16.5" stroke="#111" stroke-width="0.75"/>
<path d="M13.3 119.68H16.5" stroke="#111" stroke-width="0.75"/>
<path d="M13.3 124.00H16.5" stroke="#111" stroke-width="0.75"/>
<path d="M13.3 128.32H16.5" stroke="#111" stroke-width="0.75"/>
<path d="M13.3 132.65H16.5" stroke="#111" stroke-width="0.75"/>
<path d="M13.3 136.97H16.5" stroke="#111" stroke-width="0.75"/>
<path d="M13.3 141.30H16.5" stroke="#111" stroke-width="0.75"/>
<path d="M13.3 145.62H16.5" stroke="#111" stroke-width="0.75"/>
<path d="M13.3 149.95H16.5" stroke="#111" stroke-width="0.75"/>
<path d="M13.3 154.28H16.5" stroke="#111" stroke-width="0.75"/>
<path d="M13.3 158.60H16.5" stroke="#111" stroke-width="0.75"/>
<path d="M13.3 162.92H16.5" stroke="#111" stroke-width="0.75"/>
<path d="M13.3 167.25H16.5" stroke="#111" stroke-width="0.75"/>
<path d="M13.3 171.57H16.5" stroke="#111" stroke-width="0.75"/>
<path d="M13.3 175.90H16.5" stroke="#111" stroke-width="0.75"/>
<path d="M13.3 180.22H16.5" stroke="#111" stroke-width="0.75"/>
<path d="M13.3 184.55H16.5" stroke="#111" stroke-width="0.75"/>
<path d="M13.3 188.88H16.5" stroke="#111" stroke-width="0.75"/>
<path d="M13.3 193.20H16.5" stroke="#111" stroke-width="0.75"/>
<path d="M13.3 197.53H16.5" stroke="#111" stroke-width="0.75"/>
<path d="M13.3 201.85H16.5" stroke="#111" stroke-width="0.75"/>
<path d="M13.3 206.17H16.5" stroke="#111" stroke-width="0.75"/>
<path d="M13.3 210.50H16.5" stroke="#111" stroke-width="0.75"/>
<path d="M13.3 214.82H16.5" stroke="#111" stroke-width="0.75"/>
<path d="M13.3 219.15H16.5" stroke="#111" stroke-width="0.75"/>
<path d="M13.3 223.47H16.5" stroke="#111" stroke-width="0.75"/>
<path d="M13.3 227.80H16.5" stroke="#111" stroke-width="0.75"/>
<path d="M13.3 232.12H16.5" stroke="#111" stroke-width="0.75"/>
<path d="M13.3 236.45H16.5" stroke="#111" stroke-width="0.75"/>
<path d="M13.3 240.78H16.5" stroke="#111" stroke-width="0.75"/>
<path d="M13.3 245.10H16.5" stroke="#111" stroke-width="0.75"/>
<path d="M13.3 249.43H16.5" stroke="#111" stroke-width="0.75"/>
<path d="M13.3 253.75H16.5" stroke="#111" stroke-width="0.75"/>
<path d="M13.3 258.07H16.5" stroke="#111" stroke-width="0.75"/>
<path d="M13.3 262.40H16.5" stroke="#111" stroke-width="0.75"/>
<path d="M13.3 266.73H16.5" stroke="#111" stroke-width="0.75"/>
<path d="M13.3 271.05H16.5" stroke="#111" stroke-width="0.75"/>
<path d="M13.3 275.38H16.5" stroke="#111" stroke-width="0.75"/>
<path d="M13.3 279.70H16.5" stroke="#111" stroke-width="0.75"/>
<path d="M13.3 284.02H16.5" stroke="#111" stroke-width="0.75"/>
<path d="M13.3 288.35H16.5" stroke="#111" stroke-width="0.75"/>
<path d="M13.3 292.68H16.5" stroke="#111" stroke-width="0.75"/>
<path d="M25 295.6V297.6" stroke="#111" stroke-width="0.6"/>
<text x="25" y="306.59999999999997" text-anchor="middle" font-size="6.3" fill="#222">0</text>
<path d="M80.2 295.6V297.6" stroke="#111" stroke-width="0.6"/>
<text x="80.2" y="306.59999999999997" text-anchor="middle" font-size="6.3" fill="#222">20</text>
<path d="M135.2 295.6V297.6" stroke="#111" stroke-width="0.6"/>
<text x="135.2" y="306.59999999999997" text-anchor="middle" font-size="6.3" fill="#222">40</text>
<text x="57.4" y="318.09999999999997" font-size="8.3" fill="#1a1a1a" stroke="#1a1a1a" stroke-width="0.12" textLength="91" lengthAdjust="spacingAndGlyphs">Time from treatment start (months)</text>
<path d="M271.4 17.5V295.3H481.5" stroke="#111" stroke-width="0.8" fill="none"/>
<path d="M268.2 20.00H271.4" stroke="#111" stroke-width="0.75"/>
<path d="M268.2 23.29H271.4" stroke="#111" stroke-width="0.75"/>
<path d="M268.2 26.58H271.4" stroke="#111" stroke-width="0.75"/>
<path d="M268.2 29.87H271.4" stroke="#111" stroke-width="0.75"/>
<path d="M268.2 33.16H271.4" stroke="#111" stroke-width="0.75"/>
<path d="M268.2 36.45H271.4" stroke="#111" stroke-width="0.75"/>
<path d="M268.2 39.74H271.4" stroke="#111" stroke-width="0.75"/>
<path d="M268.2 43.03H271.4" stroke="#111" stroke-width="0.75"/>
<path d="M268.2 46.32H271.4" stroke="#111" stroke-width="0.75"/>
<path d="M268.2 49.61H271.4" stroke="#111" stroke-width="0.75"/>
<path d="M268.2 52.90H271.4" stroke="#111" stroke-width="0.75"/>
<path d="M268.2 56.19H271.4" stroke="#111" stroke-width="0.75"/>
<path d="M268.2 59.48H271.4" stroke="#111" stroke-width="0.75"/>
<path d="M268.2 62.77H271.4" stroke="#111" stroke-width="0.75"/>
<path d="M268.2 66.07H271.4" stroke="#111" stroke-width="0.75"/>
<path d="M268.2 69.36H271.4" stroke="#111" stroke-width="0.75"/>
<path d="M268.2 72.65H271.4" stroke="#111" stroke-width="0.75"/>
<path d="M268.2 75.94H271.4" stroke="#111" stroke-width="0.75"/>
<path d="M268.2 79.23H271.4" stroke="#111" stroke-width="0.75"/>
<path d="M268.2 82.52H271.4" stroke="#111" stroke-width="0.75"/>
<path d="M268.2 85.81H271.4" stroke="#111" stroke-width="0.75"/>
<path d="M268.2 89.10H271.4" stroke="#111" stroke-width="0.75"/>
<path d="M268.2 92.39H271.4" stroke="#111" stroke-width="0.75"/>
<path d="M268.2 95.68H271.4" stroke="#111" stroke-width="0.75"/>
<path d="M268.2 98.97H271.4" stroke="#111" stroke-width="0.75"/>
<path d="M268.2 102.26H271.4" stroke="#111" stroke-width="0.75"/>
<path d="M268.2 105.55H271.4" stroke="#111" stroke-width="0.75"/>
<path d="M268.2 108.84H271.4" stroke="#111" stroke-width="0.75"/>
<path d="M268.2 112.13H271.4" stroke="#111" stroke-width="0.75"/>
<path d="M268.2 115.42H271.4" stroke="#111" stroke-width="0.75"/>
<path d="M268.2 118.71H271.4" stroke="#111" stroke-width="0.75"/>
<path d="M268.2 122.00H271.4" stroke="#111" stroke-width="0.75"/>
<path d="M268.2 125.29H271.4" stroke="#111" stroke-width="0.75"/>
<path d="M268.2 128.58H271.4" stroke="#111" stroke-width="0.75"/>
<path d="M268.2 131.87H271.4" stroke="#111" stroke-width="0.75"/>
<path d="M268.2 135.16H271.4" stroke="#111" stroke-width="0.75"/>
<path d="M268.2 138.45H271.4" stroke="#111" stroke-width="0.75"/>
<path d="M268.2 141.74H271.4" stroke="#111" stroke-width="0.75"/>
<path d="M268.2 145.03H271.4" stroke="#111" stroke-width="0.75"/>
<path d="M268.2 148.32H271.4" stroke="#111" stroke-width="0.75"/>
<path d="M268.2 151.61H271.4" stroke="#111" stroke-width="0.75"/>
<path d="M268.2 154.90H271.4" stroke="#111" stroke-width="0.75"/>
<path d="M268.2 158.20H271.4" stroke="#111" stroke-width="0.75"/>
<path d="M268.2 161.49H271.4" stroke="#111" stroke-width="0.75"/>
<path d="M268.2 164.78H271.4" stroke="#111" stroke-width="0.75"/>
<path d="M268.2 168.07H271.4" stroke="#111" stroke-width="0.75"/>
<path d="M268.2 171.36H271.4" stroke="#111" stroke-width="0.75"/>
<path d="M268.2 174.65H271.4" stroke="#111" stroke-width="0.75"/>
<path d="M268.2 177.94H271.4" stroke="#111" stroke-width="0.75"/>
<path d="M268.2 181.23H271.4" stroke="#111" stroke-width="0.75"/>
<path d="M268.2 184.52H271.4" stroke="#111" stroke-width="0.75"/>
<path d="M268.2 187.81H271.4" stroke="#111" stroke-width="0.75"/>
<path d="M268.2 191.10H271.4" stroke="#111" stroke-width="0.75"/>
<path d="M268.2 194.39H271.4" stroke="#111" stroke-width="0.75"/>
<path d="M268.2 197.68H271.4" stroke="#111" stroke-width="0.75"/>
<path d="M268.2 200.97H271.4" stroke="#111" stroke-width="0.75"/>
<path d="M268.2 204.26H271.4" stroke="#111" stroke-width="0.75"/>
<path d="M268.2 207.55H271.4" stroke="#111" stroke-width="0.75"/>
<path d="M268.2 210.84H271.4" stroke="#111" stroke-width="0.75"/>
<path d="M268.2 214.13H271.4" stroke="#111" stroke-width="0.75"/>
<path d="M268.2 217.42H271.4" stroke="#111" stroke-width="0.75"/>
<path d="M268.2 220.71H271.4" stroke="#111" stroke-width="0.75"/>
<path d="M268.2 224.00H271.4" stroke="#111" stroke-width="0.75"/>
<path d="M268.2 227.29H271.4" stroke="#111" stroke-width="0.75"/>
<path d="M268.2 230.58H271.4" stroke="#111" stroke-width="0.75"/>
<path d="M268.2 233.87H271.4" stroke="#111" stroke-width="0.75"/>
<path d="M268.2 237.16H271.4" stroke="#111" stroke-width="0.75"/>
<path d="M268.2 240.45H271.4" stroke="#111" stroke-width="0.75"/>
<path d="M268.2 243.74H271.4" stroke="#111" stroke-width="0.75"/>
<path d="M268.2 247.03H271.4" stroke="#111" stroke-width="0.75"/>
<path d="M268.2 250.33H271.4" stroke="#111" stroke-width="0.75"/>
<path d="M268.2 253.62H271.4" stroke="#111" stroke-width="0.75"/>
<path d="M268.2 256.91H271.4" stroke="#111" stroke-width="0.75"/>
<path d="M268.2 260.20H271.4" stroke="#111" stroke-width="0.75"/>
<path d="M268.2 263.49H271.4" stroke="#111" stroke-width="0.75"/>
<path d="M268.2 266.78H271.4" stroke="#111" stroke-width="0.75"/>
<path d="M268.2 270.07H271.4" stroke="#111" stroke-width="0.75"/>
<path d="M268.2 273.36H271.4" stroke="#111" stroke-width="0.75"/>
<path d="M268.2 276.65H271.4" stroke="#111" stroke-width="0.75"/>
<path d="M268.2 279.94H271.4" stroke="#111" stroke-width="0.75"/>
<path d="M268.2 283.23H271.4" stroke="#111" stroke-width="0.75"/>
<path d="M268.2 286.52H271.4" stroke="#111" stroke-width="0.75"/>
<path d="M268.2 289.81H271.4" stroke="#111" stroke-width="0.75"/>
<path d="M268.2 293.10H271.4" stroke="#111" stroke-width="0.75"/>
<path d="M280.3 295.3V297.3" stroke="#111" stroke-width="0.6"/>
<text x="280.3" y="307.4" text-anchor="middle" font-size="6.3" fill="#222">0</text>
<path d="M338.0 295.3V297.3" stroke="#111" stroke-width="0.6"/>
<text x="338.0" y="307.4" text-anchor="middle" font-size="6.3" fill="#222">20</text>
<path d="M396.0 295.3V297.3" stroke="#111" stroke-width="0.6"/>
<text x="396.0" y="307.4" text-anchor="middle" font-size="6.3" fill="#222">40</text>
<text x="331.0" y="317.9" font-size="8.3" fill="#1a1a1a" stroke="#1a1a1a" stroke-width="0.12" textLength="91" lengthAdjust="spacingAndGlyphs">Time from treatment start (months)</text>
<text x="178.9" y="115.80" font-size="6.3" fill="#333" textLength="25.4" lengthAdjust="spacingAndGlyphs">MRD test</text>
<text x="185.70000000000002" y="125.80" font-size="6.3" fill="#333" textLength="43.5" lengthAdjust="spacingAndGlyphs">ctDNA detected</text>
<path d="M179.1 121.80L182.9 125.80M179.1 125.80L182.9 121.80" stroke="#c8304e" stroke-width="0.75"/>
<text x="185.70000000000002" y="135.80" font-size="6.3" fill="#333" textLength="53.1" lengthAdjust="spacingAndGlyphs">ctDNA not detected</text>
<path d="M179.1 131.80L182.9 135.80M179.1 135.80L182.9 131.80" stroke="#2f5c9e" stroke-width="0.75"/>
<text x="178.9" y="145.80" font-size="6.3" fill="#333" textLength="45.0" lengthAdjust="spacingAndGlyphs">Overall response</text>
<text x="185.70000000000002" y="155.80" font-size="6.3" fill="#333">CR</text>
<rect x="179.3" y="152.10" width="3.4" height="3.4" fill="#2ca342"/>
<text x="185.70000000000002" y="165.80" font-size="6.3" fill="#333">PR</text>
<rect x="179.3" y="162.10" width="3.4" height="3.4" fill="#3565a8"/>
<text x="185.70000000000002" y="175.80" font-size="6.3" fill="#333">SD</text>
<rect x="179.3" y="172.10" width="3.4" height="3.4" fill="#f2b530"/>
<text x="185.70000000000002" y="185.80" font-size="6.3" fill="#333">PD</text>
<rect x="179.3" y="182.10" width="3.4" height="3.4" fill="#e3899e"/>
<text x="185.70000000000002" y="195.80" font-size="6.3" fill="#333">NE</text>
<rect x="179.3" y="192.10" width="3.4" height="3.4" fill="#cacaca"/>
<text x="185.70000000000002" y="205.80" font-size="6.3" fill="#333" textLength="59.8" lengthAdjust="spacingAndGlyphs">PD per Lugano criteria</text>
<circle cx="181.0" cy="203.80" r="1.5" fill="#000"/>
<text x="185.70000000000002" y="215.80" font-size="6.3" fill="#333" textLength="15.2" lengthAdjust="spacingAndGlyphs">Death</text>
<path d="M181.0 212.10V215.50" stroke="#444" stroke-width="0.6"/>
<text x="185.70000000000002" y="225.80" font-size="6.3" fill="#333" textLength="23.8" lengthAdjust="spacingAndGlyphs">On study</text>
<path d="M177.6 223.80H181.5" stroke="#000" stroke-width="0.9"/><path d="M183.5 223.80L180.8 222.45L180.8 225.15Z" fill="#000"/>
<text x="447.9" y="115.80" font-size="6.3" fill="#333" textLength="25.4" lengthAdjust="spacingAndGlyphs">MRD test</text>
<text x="454.7" y="125.80" font-size="6.3" fill="#333" textLength="43.5" lengthAdjust="spacingAndGlyphs">ctDNA detected</text>
<path d="M448.09999999999997 121.80L451.9 125.80M448.09999999999997 125.80L451.9 121.80" stroke="#c8304e" stroke-width="0.75"/>
<text x="454.7" y="135.80" font-size="6.3" fill="#333" textLength="53.1" lengthAdjust="spacingAndGlyphs">ctDNA not detected</text>
<path d="M448.09999999999997 131.80L451.9 135.80M448.09999999999997 135.80L451.9 131.80" stroke="#2f5c9e" stroke-width="0.75"/>
<text x="447.9" y="145.80" font-size="6.3" fill="#333" textLength="45.0" lengthAdjust="spacingAndGlyphs">Overall response</text>
<text x="454.7" y="155.80" font-size="6.3" fill="#333">CR</text>
<rect x="448.29999999999995" y="152.10" width="3.4" height="3.4" fill="#2ca342"/>
<text x="454.7" y="165.80" font-size="6.3" fill="#333">PR</text>
<rect x="448.29999999999995" y="162.10" width="3.4" height="3.4" fill="#3565a8"/>
<text x="454.7" y="175.80" font-size="6.3" fill="#333">SD</text>
<rect x="448.29999999999995" y="172.10" width="3.4" height="3.4" fill="#f2b530"/>
<text x="454.7" y="185.80" font-size="6.3" fill="#333">PD</text>
<rect x="448.29999999999995" y="182.10" width="3.4" height="3.4" fill="#e3899e"/>
<text x="454.7" y="195.80" font-size="6.3" fill="#333">NE</text>
<rect x="448.29999999999995" y="192.10" width="3.4" height="3.4" fill="#cacaca"/>
<text x="454.7" y="205.80" font-size="6.3" fill="#333" textLength="59.8" lengthAdjust="spacingAndGlyphs">PD per Lugano criteria</text>
<circle cx="450.0" cy="203.80" r="1.5" fill="#000"/>
<text x="454.7" y="215.80" font-size="6.3" fill="#333" textLength="15.2" lengthAdjust="spacingAndGlyphs">Death</text>
<path d="M450.0 212.10V215.50" stroke="#444" stroke-width="0.6"/>
<text x="454.7" y="225.80" font-size="6.3" fill="#333" textLength="23.8" lengthAdjust="spacingAndGlyphs">On study</text>
<path d="M446.59999999999997 223.80H450.5" stroke="#000" stroke-width="0.9"/><path d="M452.5 223.80L449.79999999999995 222.45L449.79999999999995 225.15Z" fill="#000"/>
<rect x="0.5" y="0.5" width="519" height="324" fill="none" stroke="#666" stroke-width="1"/>
</svg>
</body></html>
